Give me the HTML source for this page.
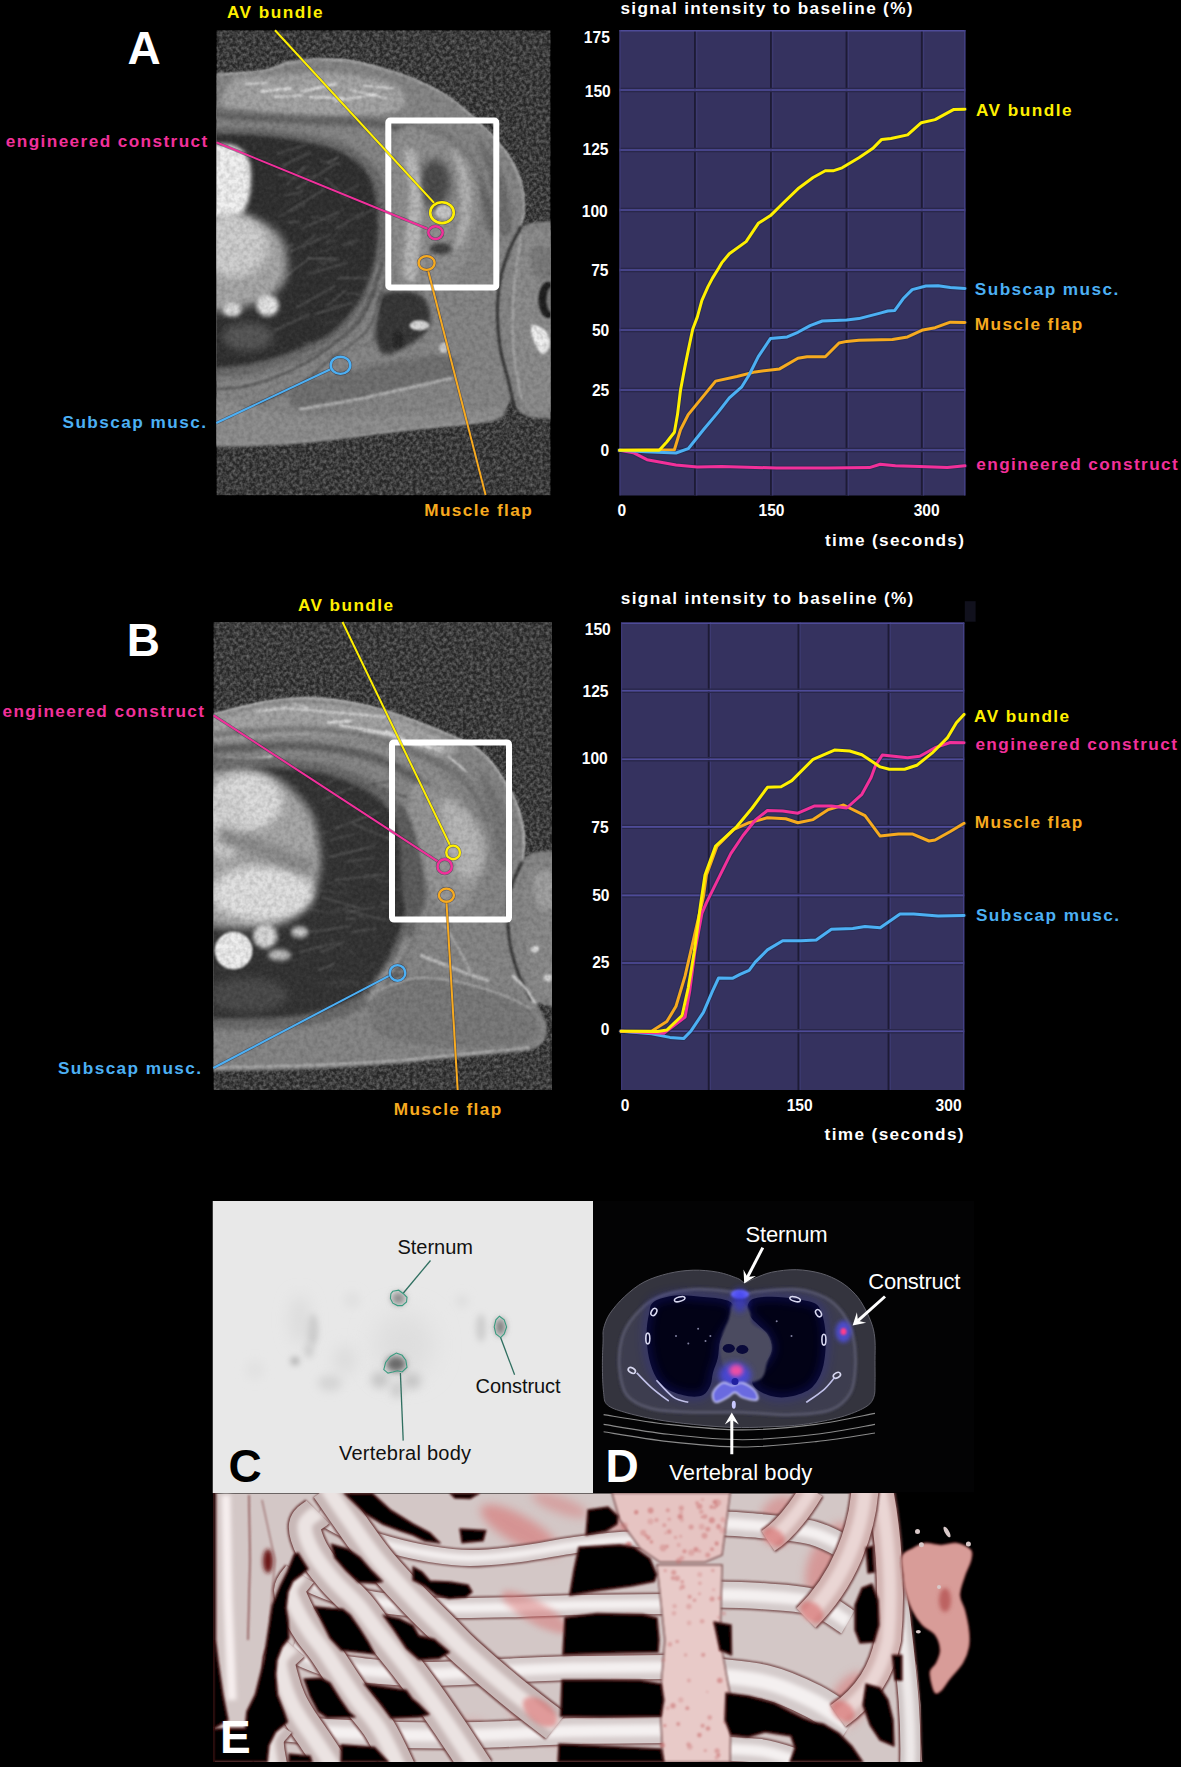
<!DOCTYPE html>
<html><head><meta charset="utf-8"><title>Figure</title>
<style>
html,body{margin:0;padding:0;background:#000;}
body{width:1181px;height:1767px;overflow:hidden;position:relative;font-family:"Liberation Sans",sans-serif;}
svg{position:absolute;left:0;top:0;display:block;}
</style></head>
<body>
<svg width="1181" height="1767" viewBox="0 0 1181 1767">
<defs>

<filter id="noise" filterUnits="userSpaceOnUse" x="-400" y="-400" width="2000" height="2600">
  <feTurbulence type="fractalNoise" baseFrequency="0.3" numOctaves="2" seed="5" result="t"/>
  <feGaussianBlur stdDeviation="0.7"/>
  <feColorMatrix type="matrix" values="0 0 0 0 0.42  0 0 0 0 0.42  0 0 0 0 0.42  0 0 0 1.6 -0.5"/>
</filter>
<filter id="noise2" filterUnits="userSpaceOnUse" x="-400" y="-400" width="2000" height="2600">
  <feTurbulence type="fractalNoise" baseFrequency="0.22" numOctaves="2" seed="11" result="t"/>
  <feColorMatrix type="matrix" values="0 0 0 0 0  0 0 0 0 0  0 0 0 0 0  0 0 0 1.6 -0.55"/>
</filter>
<filter id="b1" filterUnits="userSpaceOnUse" x="-400" y="-400" width="2000" height="2600"><feGaussianBlur stdDeviation="1"/></filter>
<filter id="b2" filterUnits="userSpaceOnUse" x="-400" y="-400" width="2000" height="2600"><feGaussianBlur stdDeviation="2"/></filter>
<filter id="b4" filterUnits="userSpaceOnUse" x="-400" y="-400" width="2000" height="2600"><feGaussianBlur stdDeviation="4"/></filter>
<filter id="b7" filterUnits="userSpaceOnUse" x="-400" y="-400" width="2000" height="2600"><feGaussianBlur stdDeviation="7"/></filter>
<clipPath id="clipA"><rect x="0" y="0" width="334" height="465"/></clipPath>
<clipPath id="clipB"><rect x="0" y="0" width="338.5" height="468"/></clipPath>


<filter id="cb3" filterUnits="userSpaceOnUse" x="-400" y="-400" width="2000" height="2600"><feGaussianBlur stdDeviation="3"/></filter>
<filter id="cb5" filterUnits="userSpaceOnUse" x="-400" y="-400" width="2000" height="2600"><feGaussianBlur stdDeviation="5"/></filter>
<filter id="cb8" filterUnits="userSpaceOnUse" x="-400" y="-400" width="2000" height="2600"><feGaussianBlur stdDeviation="8"/></filter>
<filter id="cb12" filterUnits="userSpaceOnUse" x="-400" y="-400" width="2000" height="2600"><feGaussianBlur stdDeviation="12"/></filter>
<filter id="eb" filterUnits="userSpaceOnUse" x="-400" y="-400" width="2000" height="2600"><feGaussianBlur stdDeviation="0.9"/></filter>
<filter id="eb2" filterUnits="userSpaceOnUse" x="-400" y="-400" width="2000" height="2600"><feGaussianBlur stdDeviation="2"/></filter>
<clipPath id="clipC"><rect x="212.5" y="1201" width="380.5" height="292.2"/></clipPath>
<clipPath id="clipD"><rect x="593" y="1201" width="381" height="291.5"/></clipPath>
<clipPath id="clipE"><rect x="213" y="1493" width="762" height="269"/></clipPath>

</defs>
<rect x="0" y="0" width="1181" height="1767" fill="#000"/>
<g transform="translate(216.5,30.3)" clip-path="url(#clipA)">
<rect x="0" y="0" width="334" height="465" fill="#272727"/>
<rect x="0" y="0" width="334" height="465" filter="url(#noise)" opacity="0.55"/>
<path d="M-25.5,44.8 C-21.3,-17.2 -9.0,44.3 0.0,44.0 C9.0,43.6 19.9,43.3 28.4,42.6 C36.9,41.8 44.0,41.4 51.1,39.7 C58.2,38.1 62.9,34.4 70.9,32.6 C79.0,30.9 88.9,29.6 99.3,29.2 C109.7,28.9 121.5,28.9 133.3,30.6 C145.2,32.4 159.3,36.5 170.2,39.7 C181.1,42.9 189.1,45.6 198.6,49.6 C208.0,53.7 218.4,58.6 227.0,63.8 C235.5,69.0 242.1,74.5 249.6,80.9 C257.2,87.2 265.7,95.3 272.3,102.1 C279.0,109.0 284.6,115.4 289.4,122.0 C294.1,128.6 297.9,135.2 300.7,141.8 C303.5,148.5 305.3,154.6 306.4,161.7 C307.4,168.8 307.4,178.7 307.0,184.4 C306.5,190.1 301.7,194.4 303.5,195.7 C305.3,197.1 312.5,193.0 317.7,192.3 C323.0,191.6 327.5,191.6 335.0,191.5 C342.6,191.3 358.4,158.5 363.1,191.5 C367.8,224.4 367.8,356.4 363.1,389.2 C358.4,422.1 343.5,389.1 335.0,388.7 C326.5,388.2 317.8,388.0 312.1,386.4 C306.3,384.7 303.5,381.7 300.7,378.7 C297.9,375.8 297.9,367.4 295.0,368.8 C292.2,370.2 290.3,383.1 283.7,387.2 C277.1,391.4 269.5,391.7 255.3,393.8 C241.1,395.8 217.5,397.4 198.6,399.4 C179.7,401.5 160.8,404.0 141.8,406.2 C122.9,408.5 104.0,411.2 85.1,412.8 C66.2,414.4 42.6,415.4 28.4,415.9 C14.2,416.4 9.0,415.9 0.0,415.9 C-9.0,415.9 -21.3,477.7 -25.5,415.9 C-29.8,354.0 -29.8,106.8 -25.5,44.8 Z" fill="#868686" filter="url(#b1)"/>
<path d="M0.0,44.0 C4.7,43.7 19.9,43.3 28.4,42.6 C36.9,41.8 44.0,41.4 51.1,39.7 C58.2,38.1 62.9,34.4 70.9,32.6 C79.0,30.9 88.9,29.6 99.3,29.2 C109.7,28.9 121.5,28.9 133.3,30.6 C145.2,32.4 159.3,36.5 170.2,39.7 C181.1,42.9 189.1,45.6 198.6,49.6 C208.0,53.7 218.4,58.6 227.0,63.8 C235.5,69.0 242.1,74.5 249.6,80.9 C257.2,87.2 265.7,95.3 272.3,102.1 C279.0,109.0 284.6,115.4 289.4,122.0 C294.1,128.6 297.9,135.2 300.7,141.8 C303.5,148.5 305.3,154.6 306.4,161.7 C307.4,168.8 307.4,178.7 307.0,184.4 C306.5,190.1 304.1,193.9 303.5,195.7" fill="none" stroke="#c8c8c8" stroke-width="1.6" filter="url(#b1)"/>
<path d="M0.0,412.8 C14.2,412.4 61.5,412.0 85.1,410.5 C108.7,409.0 122.9,406.2 141.8,404.0 C160.8,401.7 179.7,399.2 198.6,397.2 C217.5,395.1 241.6,393.6 255.3,391.5 C269.0,389.4 276.6,385.6 280.9,384.4" fill="none" stroke="#b5b5b5" stroke-width="1.5" filter="url(#b1)"/>
<path d="M17.0,49.6 C25.5,44.4 40.7,46.6 56.7,45.4 C72.8,44.2 96.5,42.1 113.5,42.6 C130.5,43.0 147.0,45.4 158.9,48.2 C170.7,51.1 179.7,54.8 184.4,59.6 C189.1,64.3 191.5,72.3 187.2,76.6 C183.0,80.9 175.9,83.7 158.9,85.1 C141.8,86.5 106.9,85.6 85.1,85.1 C63.4,84.6 41.6,83.7 28.4,82.3 C15.1,80.9 7.6,82.0 5.7,76.6 C3.8,71.2 8.5,54.8 17.0,49.6 Z" fill="#a4a4a4" filter="url(#b2)"/>
<line x1="45.4" y1="61.0" x2="73.8" y2="58.2" stroke="#ececec" stroke-width="2.3" stroke-linecap="round" filter="url(#b1)"/>
<line x1="85.1" y1="61.0" x2="119.1" y2="53.9" stroke="#ececec" stroke-width="2.3" stroke-linecap="round" filter="url(#b1)"/>
<line x1="93.6" y1="66.7" x2="127.7" y2="68.1" stroke="#ececec" stroke-width="1.8" stroke-linecap="round" filter="url(#b1)"/>
<line x1="119.1" y1="70.9" x2="158.9" y2="63.8" stroke="#ececec" stroke-width="1.8" stroke-linecap="round" filter="url(#b1)"/>
<line x1="133.3" y1="59.6" x2="170.2" y2="68.1" stroke="#ececec" stroke-width="1.4" stroke-linecap="round" filter="url(#b1)"/>
<line x1="56.7" y1="66.7" x2="85.1" y2="65.2" stroke="#ececec" stroke-width="1.4" stroke-linecap="round" filter="url(#b1)"/>
<line x1="147.5" y1="55.3" x2="175.9" y2="58.2" stroke="#ececec" stroke-width="1.4" stroke-linecap="round" filter="url(#b1)"/>
<line x1="28.4" y1="53.9" x2="51.1" y2="52.5" stroke="#ececec" stroke-width="1.4" stroke-linecap="round" filter="url(#b1)"/>
<path d="M-25.5,76.0 C-21.3,74.1 -18.4,75.1 0.0,76.6 C18.4,78.1 56.7,83.2 85.1,85.1 C113.5,87.0 146.6,85.1 170.2,87.9 C193.9,90.8 212.8,96.0 227.0,102.1 C241.1,108.3 247.8,115.4 255.3,124.8 C262.9,134.3 268.1,146.6 272.3,158.9 C276.6,171.2 281.3,192.0 280.9,198.6 C280.4,205.2 273.8,205.2 269.5,198.6 C265.2,192.0 261.0,171.2 255.3,158.9 C249.6,146.6 244.9,133.8 235.5,124.8 C226.0,115.8 214.2,109.7 198.6,105.0 C183.0,100.2 160.8,98.3 141.8,96.5 C122.9,94.6 108.7,95.0 85.1,93.6 C61.5,92.2 18.4,88.9 0.0,87.9 C-18.4,87.0 -21.3,89.9 -25.5,87.9 C-29.8,86.0 -29.8,77.9 -25.5,76.0 Z" fill="#787878" filter="url(#b2)"/>
<path d="M-25.5,85.1 C-21.3,85.1 -18.4,84.3 0.0,85.1 C18.4,86.0 58.6,88.8 85.1,90.2 C111.6,91.6 137.1,90.7 158.9,93.6 C180.6,96.5 200.5,101.2 215.6,107.8 C230.7,114.4 240.7,122.9 249.6,133.3 C258.6,143.7 264.8,158.4 269.5,170.2 C274.2,182.0 276.6,198.6 278.0,204.3" fill="none" stroke="#626262" stroke-width="6.2" filter="url(#b2)"/>
<path d="M-25.5,95.9 C-21.3,53.7 -11.3,96.1 0.0,96.5 C11.3,96.8 27.9,96.7 42.6,97.9 C57.2,99.1 74.2,101.2 87.9,103.5 C101.7,105.9 114.4,108.0 124.8,112.1 C135.2,116.1 143.5,121.7 150.4,127.7 C157.2,133.6 162.4,139.5 166.0,147.5 C169.5,155.6 170.5,166.4 171.6,175.9 C172.7,185.3 173.0,194.3 172.5,204.3 C172.0,214.2 171.1,225.1 168.8,235.5 C166.5,245.9 163.1,257.2 158.9,266.7 C154.6,276.1 149.4,284.6 143.3,292.2 C137.1,299.8 129.8,306.4 122.0,312.1 C114.2,317.7 105.9,322.0 96.5,326.2 C87.0,330.5 76.6,334.3 65.2,337.6 C53.9,340.9 39.2,344.2 28.4,346.1 C17.5,348.0 9.0,348.4 0.0,348.9 C-9.0,349.5 -21.3,391.7 -25.5,349.5 C-29.8,307.3 -29.8,138.1 -25.5,95.9 Z" fill="#6c6c6c" filter="url(#b2)"/>
<path d="M-25.5,102.7 C-21.3,63.6 -11.3,103.2 0.0,103.5 C11.3,103.9 28.4,103.8 42.6,105.0 C56.7,106.1 72.3,108.3 85.1,110.6 C97.9,113.0 109.7,115.4 119.1,119.1 C128.6,122.9 135.9,128.1 141.8,133.3 C147.8,138.5 151.5,143.3 154.6,150.4 C157.7,157.4 159.2,166.9 160.3,175.9 C161.4,184.9 161.6,194.8 161.1,204.3 C160.7,213.7 159.7,223.2 157.4,232.6 C155.2,242.1 151.5,252.5 147.5,261.0 C143.5,269.5 139.0,276.6 133.3,283.7 C127.7,290.8 120.6,298.3 113.5,303.5 C106.4,308.7 99.3,311.1 90.8,314.9 C82.3,318.7 72.8,322.9 62.4,326.2 C52.0,329.6 38.8,332.9 28.4,334.8 C18.0,336.6 9.0,337.0 0.0,337.6 C-9.0,338.2 -21.3,377.3 -25.5,338.2 C-29.8,299.0 -29.8,141.8 -25.5,102.7 Z" fill="#2f2f2f" filter="url(#b2)"/>
<line x1="65.2" y1="136.2" x2="93.6" y2="122.0" stroke="#555" stroke-width="1.6" filter="url(#b1)"/>
<line x1="79.4" y1="158.9" x2="119.1" y2="133.3" stroke="#555" stroke-width="1.6" filter="url(#b1)"/>
<line x1="70.9" y1="181.6" x2="107.8" y2="158.9" stroke="#555" stroke-width="1.6" filter="url(#b1)"/>
<line x1="85.1" y1="198.6" x2="122.0" y2="181.6" stroke="#555" stroke-width="1.6" filter="url(#b1)"/>
<line x1="73.8" y1="221.3" x2="113.5" y2="204.3" stroke="#555" stroke-width="1.6" filter="url(#b1)"/>
<line x1="90.8" y1="244.0" x2="130.5" y2="232.6" stroke="#555" stroke-width="1.6" filter="url(#b1)"/>
<line x1="65.2" y1="249.6" x2="93.6" y2="227.0" stroke="#555" stroke-width="1.6" filter="url(#b1)"/>
<line x1="107.8" y1="147.5" x2="133.3" y2="170.2" stroke="#555" stroke-width="1.6" filter="url(#b1)"/>
<line x1="119.1" y1="198.6" x2="147.5" y2="181.6" stroke="#555" stroke-width="1.6" filter="url(#b1)"/>
<line x1="79.4" y1="278.0" x2="119.1" y2="255.3" stroke="#555" stroke-width="1.6" filter="url(#b1)"/>
<line x1="56.7" y1="300.7" x2="93.6" y2="283.7" stroke="#555" stroke-width="1.6" filter="url(#b1)"/>
<line x1="99.3" y1="283.7" x2="136.2" y2="272.3" stroke="#555" stroke-width="1.6" filter="url(#b1)"/>
<line x1="78.4" y1="149.1" x2="94.3" y2="132.1" stroke="#4a4a4a" stroke-width="1.2" filter="url(#b1)"/>
<line x1="49.0" y1="219.9" x2="57.5" y2="216.1" stroke="#4a4a4a" stroke-width="1.0" filter="url(#b1)"/>
<line x1="103.5" y1="130.9" x2="124.6" y2="133.9" stroke="#4a4a4a" stroke-width="1.4" filter="url(#b1)"/>
<line x1="86.4" y1="313.0" x2="96.0" y2="313.4" stroke="#5e5e5e" stroke-width="1.2" filter="url(#b1)"/>
<line x1="102.4" y1="232.5" x2="123.4" y2="229.4" stroke="#4a4a4a" stroke-width="1.4" filter="url(#b1)"/>
<line x1="113.2" y1="193.1" x2="127.4" y2="177.6" stroke="#4a4a4a" stroke-width="1.4" filter="url(#b1)"/>
<line x1="97.5" y1="224.7" x2="121.7" y2="214.8" stroke="#444" stroke-width="1.2" filter="url(#b1)"/>
<line x1="70.0" y1="154.8" x2="88.1" y2="135.9" stroke="#5e5e5e" stroke-width="1.3" filter="url(#b1)"/>
<line x1="139.4" y1="264.0" x2="154.2" y2="266.7" stroke="#4a4a4a" stroke-width="1.3" filter="url(#b1)"/>
<line x1="60.8" y1="187.1" x2="87.7" y2="174.5" stroke="#4a4a4a" stroke-width="1.6" filter="url(#b1)"/>
<line x1="106.0" y1="293.0" x2="121.4" y2="290.9" stroke="#444" stroke-width="1.4" filter="url(#b1)"/>
<line x1="93.0" y1="286.0" x2="120.9" y2="274.9" stroke="#4a4a4a" stroke-width="0.9" filter="url(#b1)"/>
<line x1="120.2" y1="247.7" x2="151.2" y2="247.8" stroke="#5e5e5e" stroke-width="1.5" filter="url(#b1)"/>
<line x1="140.7" y1="188.1" x2="166.8" y2="173.5" stroke="#4a4a4a" stroke-width="1.3" filter="url(#b1)"/>
<line x1="66.7" y1="176.2" x2="89.3" y2="165.0" stroke="#444" stroke-width="0.9" filter="url(#b1)"/>
<line x1="92.3" y1="228.3" x2="120.8" y2="228.3" stroke="#5e5e5e" stroke-width="1.5" filter="url(#b1)"/>
<line x1="151.7" y1="254.7" x2="165.4" y2="244.4" stroke="#4a4a4a" stroke-width="1.0" filter="url(#b1)"/>
<line x1="68.2" y1="165.5" x2="87.1" y2="160.6" stroke="#5e5e5e" stroke-width="1.1" filter="url(#b1)"/>
<line x1="58.7" y1="225.3" x2="77.7" y2="213.6" stroke="#555" stroke-width="1.5" filter="url(#b1)"/>
<line x1="99.6" y1="241.8" x2="115.5" y2="224.0" stroke="#444" stroke-width="1.2" filter="url(#b1)"/>
<line x1="86.2" y1="214.8" x2="99.7" y2="203.6" stroke="#555" stroke-width="1.2" filter="url(#b1)"/>
<line x1="54.7" y1="238.4" x2="65.1" y2="235.5" stroke="#4a4a4a" stroke-width="1.7" filter="url(#b1)"/>
<line x1="110.5" y1="133.1" x2="122.2" y2="126.9" stroke="#5e5e5e" stroke-width="1.8" filter="url(#b1)"/>
<line x1="109.2" y1="213.3" x2="119.6" y2="209.4" stroke="#444" stroke-width="1.3" filter="url(#b1)"/>
<line x1="77.1" y1="147.8" x2="102.5" y2="145.6" stroke="#444" stroke-width="1.6" filter="url(#b1)"/>
<line x1="60.4" y1="123.7" x2="89.0" y2="114.3" stroke="#555" stroke-width="1.5" filter="url(#b1)"/>
<line x1="143.7" y1="269.7" x2="158.7" y2="266.8" stroke="#4a4a4a" stroke-width="1.5" filter="url(#b1)"/>
<line x1="71.4" y1="192.0" x2="83.7" y2="191.3" stroke="#5e5e5e" stroke-width="1.4" filter="url(#b1)"/>
<line x1="110.4" y1="275.7" x2="130.3" y2="259.4" stroke="#555" stroke-width="1.6" filter="url(#b1)"/>
<line x1="124.4" y1="164.2" x2="142.1" y2="154.3" stroke="#4a4a4a" stroke-width="1.8" filter="url(#b1)"/>
<line x1="130.0" y1="212.9" x2="142.5" y2="209.9" stroke="#5e5e5e" stroke-width="1.2" filter="url(#b1)"/>
<line x1="146.2" y1="315.4" x2="172.7" y2="300.9" stroke="#555" stroke-width="0.9" filter="url(#b1)"/>
<line x1="94.6" y1="186.2" x2="113.7" y2="189.8" stroke="#4a4a4a" stroke-width="1.3" filter="url(#b1)"/>
<line x1="114.8" y1="277.9" x2="125.1" y2="276.1" stroke="#444" stroke-width="1.6" filter="url(#b1)"/>
<line x1="125.5" y1="214.1" x2="138.1" y2="213.7" stroke="#5e5e5e" stroke-width="0.9" filter="url(#b1)"/>
<line x1="147.2" y1="262.5" x2="166.2" y2="260.9" stroke="#4a4a4a" stroke-width="1.5" filter="url(#b1)"/>
<line x1="61.4" y1="144.4" x2="73.2" y2="145.5" stroke="#555" stroke-width="1.4" filter="url(#b1)"/>
<line x1="108.5" y1="213.3" x2="130.7" y2="193.5" stroke="#555" stroke-width="0.8" filter="url(#b1)"/>
<line x1="131.0" y1="263.4" x2="141.8" y2="262.6" stroke="#555" stroke-width="1.2" filter="url(#b1)"/>
<line x1="139.0" y1="283.2" x2="149.8" y2="275.4" stroke="#5e5e5e" stroke-width="1.3" filter="url(#b1)"/>
<path d="M-25.5,181.6 C-21.3,165.0 -9.9,180.6 0.0,181.6 C9.9,182.5 23.6,183.5 34.0,187.2 C44.4,191.0 56.3,196.7 62.4,204.3 C68.6,211.8 70.4,224.1 70.9,232.6 C71.4,241.1 70.0,248.7 65.2,255.3 C60.5,261.9 53.4,268.1 42.6,272.3 C31.7,276.6 11.3,279.4 0.0,280.9 C-11.3,282.3 -21.3,297.4 -25.5,280.9 C-29.8,264.3 -29.8,198.1 -25.5,181.6 Z" fill="#a8a8a8" filter="url(#b4)"/>
<path d="M-25.5,113.5 C-21.3,101.2 -7.6,113.0 0.0,113.5 C7.6,113.9 14.4,113.5 19.9,116.3 C25.3,119.1 30.3,123.4 32.6,130.5 C35.0,137.6 35.0,150.4 34.0,158.9 C33.1,167.4 30.7,176.8 27.0,181.6 C23.2,186.3 15.8,186.3 11.3,187.2 C6.9,188.2 6.1,187.2 0.0,187.2 C-6.1,187.2 -21.3,199.5 -25.5,187.2 C-29.8,174.9 -29.8,125.8 -25.5,113.5 Z" fill="#f2f2f2" filter="url(#b2)"/>
<ellipse cx="17.0" cy="215.6" rx="34.0" ry="31.2" fill="#d0d0d0" filter="url(#b4)"/>
<ellipse cx="51.1" cy="275.2" rx="11.3" ry="10.8" fill="#e6e6e6" filter="url(#b2)"/>
<ellipse cx="15.6" cy="279.4" rx="9.9" ry="7.1" fill="#dcdcdc" filter="url(#b2)"/>
<ellipse cx="31.2" cy="306.4" rx="25.5" ry="14.2" fill="#555" filter="url(#b4)"/>
<path d="M181.6,102.1 C189.6,87.0 214.7,102.6 227.0,107.8 C239.2,113.0 249.2,122.9 255.3,133.3 C261.5,143.7 263.8,156.5 263.8,170.2 C263.8,183.9 259.1,203.3 255.3,215.6 C251.5,227.9 247.8,237.4 241.1,244.0 C234.5,250.6 225.1,253.4 215.6,255.3 C206.1,257.2 190.5,264.8 184.4,255.3 C178.3,245.9 179.2,224.1 178.7,198.6 C178.3,173.0 173.5,117.3 181.6,102.1 Z" fill="#8f8f8f" filter="url(#b2)"/>
<ellipse cx="218.4" cy="153.2" rx="15.6" ry="24.1" fill="#4a4a4a" filter="url(#b4)"/>
<ellipse cx="227.0" cy="181.6" rx="7.9" ry="7.1" fill="#c8c8c8" filter="url(#b1)"/>
<path d="M187.2,122.0 C186.3,128.1 192.4,146.1 192.9,158.9 C193.4,171.6 191.0,184.9 190.1,198.6 C189.1,212.3 185.8,232.6 187.2,241.1 C188.7,249.6 195.7,256.7 198.6,249.6 C201.4,242.6 203.3,214.2 204.3,198.6 C205.2,183.0 205.2,168.8 204.3,156.0 C203.3,143.3 201.4,127.7 198.6,122.0 C195.7,116.3 188.2,115.8 187.2,122.0 Z" fill="#b8b8b8" filter="url(#b2)"/>
<path d="M235.5,119.1 C236.9,118.2 246.3,127.7 249.6,136.2 C253.0,144.7 255.3,158.9 255.3,170.2 C255.3,181.6 252.5,195.7 249.6,204.3 C246.8,212.8 239.2,225.1 238.3,221.3 C237.4,217.5 243.5,194.8 244.0,181.6 C244.4,168.3 242.6,152.2 241.1,141.8 C239.7,131.4 234.0,120.1 235.5,119.1 Z" fill="#b0b0b0" filter="url(#b2)"/>
<ellipse cx="224.1" cy="218.4" rx="11.3" ry="5.7" fill="#3e3e3e" filter="url(#b2)"/>
<path d="M261.0,107.8 C262.9,107.3 275.7,123.9 280.9,133.3 C286.1,142.8 289.8,153.7 292.2,164.5 C294.6,175.4 296.5,192.0 295.0,198.6 C293.6,205.2 286.5,209.0 283.7,204.3 C280.9,199.5 280.4,181.6 278.0,170.2 C275.7,158.9 272.3,146.6 269.5,136.2 C266.7,125.8 259.1,108.3 261.0,107.8 Z" fill="#6e6e6e" filter="url(#b2)"/>
<path d="M164.5,263.8 C170.7,260.8 190.5,260.0 198.6,262.4 C206.6,264.8 210.9,271.6 212.8,278.0 C214.7,284.4 214.2,294.1 209.9,300.7 C205.7,307.3 194.3,313.9 187.2,317.7 C180.1,321.5 172.1,325.3 167.4,323.4 C162.6,321.5 159.8,313.5 158.9,306.4 C157.9,299.3 160.8,287.9 161.7,280.9 C162.6,273.8 158.4,266.9 164.5,263.8 Z" fill="#353535" filter="url(#b2)"/>
<ellipse cx="202.8" cy="295.0" rx="9.9" ry="5.1" fill="#d8d8d8" filter="url(#b1)"/>
<ellipse cx="227.0" cy="317.7" rx="4.5" ry="5.7" fill="#c8c8c8" filter="url(#b1)"/>
<ellipse cx="181.6" cy="309.2" rx="5.7" ry="8.5" fill="#262626" filter="url(#b1)"/>
<path d="M85.1,354.6 C94.6,348.0 122.9,342.3 141.8,337.6 C160.8,332.9 183.5,327.7 198.6,326.2 C213.7,324.8 227.9,325.3 232.6,329.1 C237.4,332.9 237.4,342.8 227.0,348.9 C216.5,355.1 189.1,360.8 170.2,366.0 C151.3,371.2 127.7,378.3 113.5,380.1 C99.3,382.0 89.8,381.6 85.1,377.3 C80.4,373.0 75.7,361.2 85.1,354.6 Z" fill="#7a7a7a" filter="url(#b2)"/>
<path d="M82.3,368.8 C89.8,366.9 110.6,361.2 127.7,357.4 C144.7,353.7 167.8,349.4 184.4,346.1 C200.9,342.8 219.9,339.0 227.0,337.6" fill="none" stroke="#a6a6a6" stroke-width="3" filter="url(#b1)"/>
<path d="M93.6,377.3 C101.7,375.9 126.7,371.6 141.8,368.8 C157.0,366.0 171.2,363.4 184.4,360.3 C197.6,357.2 215.1,352.0 221.3,350.4" fill="none" stroke="#9a9a9a" stroke-width="4" filter="url(#b2)"/>
<path d="M-25.5,348.9 C-21.3,348.9 -9.0,349.4 0.0,348.9 C9.0,348.5 18.0,348.2 28.4,346.1 C38.8,344.0 52.0,340.1 62.4,336.5 C72.8,332.8 81.6,328.3 90.8,324.0 C100.0,319.6 109.7,316.2 117.4,310.4 C125.2,304.5 131.6,296.5 137.3,288.8 C143.0,281.1 147.2,273.8 151.5,264.4 C155.7,255.0 160.9,237.9 162.8,232.6" fill="none" stroke="#7c7c7c" stroke-width="2.6" filter="url(#b1)"/>
<path d="M-25.5,358.9 C-21.3,358.9 -9.0,359.3 0.0,358.9 C9.0,358.4 18.0,358.3 28.4,356.0 C38.8,353.8 52.0,349.4 62.4,345.4 C72.8,341.4 82.3,336.8 90.8,331.9 C99.3,327.1 105.1,322.8 113.5,316.3 C121.8,309.9 133.9,301.4 140.8,293.3 C147.7,285.1 150.7,277.5 155.0,267.4 C159.2,257.3 164.4,238.4 166.3,232.6" fill="none" stroke="#5c5c5c" stroke-width="2.6" filter="url(#b1)"/>
<path d="M-25.5,368.8 C-21.3,368.8 -9.0,369.3 0.0,368.8 C9.0,368.3 18.0,368.4 28.4,366.0 C38.8,363.5 52.0,358.7 62.4,354.3 C72.8,350.0 82.3,345.2 90.8,339.9 C99.3,334.5 104.6,329.3 113.5,322.3 C122.4,315.2 136.8,306.4 144.3,297.7 C151.7,289.1 154.2,281.2 158.4,270.4 C162.7,259.5 167.9,238.9 169.8,232.6" fill="none" stroke="#808080" stroke-width="2.6" filter="url(#b1)"/>
<path d="M-25.5,380.1 C-21.3,380.1 -9.0,380.6 0.0,380.1 C9.0,379.7 18.0,379.9 28.4,377.3 C38.8,374.7 52.0,369.3 62.4,364.5 C72.8,359.8 82.3,354.8 90.8,348.9 C99.3,343.0 103.9,336.8 113.5,329.1 C123.0,321.4 140.1,312.1 148.2,302.8 C156.4,293.6 158.2,285.5 162.4,273.8 C166.7,262.1 171.9,239.5 173.8,232.6" fill="none" stroke="#646464" stroke-width="2.6" filter="url(#b1)"/>
<path d="M79.4,354.6 C88.9,348.2 122.0,344.7 141.8,340.4 C161.7,336.2 183.0,331.4 198.6,329.1 C214.2,326.7 229.3,323.4 235.5,326.2 C241.6,329.1 246.3,340.0 235.5,346.1 C224.6,352.2 195.3,357.6 170.2,363.1 C145.2,368.6 100.2,380.4 85.1,379.0 C70.0,377.6 70.0,361.0 79.4,354.6 Z" fill="#707070" filter="url(#b2)"/>
<path d="M82.3,379.0 C92.2,377.3 122.5,372.6 141.8,368.8 C161.2,365.0 183.0,359.5 198.6,356.0 C214.2,352.5 229.3,349.2 235.5,347.8" fill="none" stroke="#b8b8b8" stroke-width="2.8" filter="url(#b1)"/>
<path d="M-25.5,368.2 C-21.3,360.7 -18.4,365.9 0.0,368.8 C18.4,371.7 56.7,383.0 85.1,385.8 C113.5,388.7 141.8,386.8 170.2,385.8 C198.6,384.9 236.4,381.6 255.3,380.1 C274.2,378.7 279.9,375.9 283.7,377.3 C287.5,378.7 292.2,385.3 278.0,388.7 C263.8,392.0 230.7,393.4 198.6,397.2 C166.4,400.9 118.2,408.5 85.1,411.3 C52.0,414.2 18.4,413.7 0.0,414.2 C-18.4,414.7 -21.3,421.8 -25.5,414.2 C-29.8,406.5 -29.8,375.8 -25.5,368.2 Z" fill="#8e8e8e" filter="url(#b2)"/>
<path d="M305.0,195.7 C302.8,200.0 295.7,212.3 292.2,221.3 C288.7,230.3 285.6,239.2 283.7,249.6 C281.8,260.0 280.9,272.3 280.9,283.7 C280.9,295.0 281.8,306.4 283.7,317.7 C285.6,329.1 289.8,341.8 292.2,351.8 C294.6,361.7 296.9,373.0 297.9,377.3" fill="none" stroke="#333" stroke-width="3" filter="url(#b1)"/>
<path d="M303.5,204.3 C310.0,197.4 325.1,200.7 335.0,200.0 C345.0,199.3 358.4,170.0 363.1,200.0 C367.8,230.0 367.8,350.1 363.1,380.1 C358.4,410.2 343.5,380.1 335.0,380.1 C326.5,380.1 317.8,384.4 312.1,380.1 C306.3,375.9 303.5,368.3 300.7,354.6 C297.9,340.9 295.7,316.8 295.0,297.9 C294.3,279.0 295.0,256.7 296.5,241.1 C297.9,225.5 297.1,211.1 303.5,204.3 Z" fill="#8c8c8c" filter="url(#b1)"/>
<path d="M305.0,204.3 C303.8,212.8 299.3,237.4 297.9,255.3 C296.5,273.3 295.3,293.1 296.5,312.1 C297.6,331.0 303.5,359.3 305.0,368.8" fill="none" stroke="#b0b0b0" stroke-width="1.5" filter="url(#b1)"/>
<ellipse cx="331.9" cy="269.5" rx="9.9" ry="18.4" fill="#1a1a1a" filter="url(#b1)"/>
<ellipse cx="334.8" cy="269.5" rx="5.1" ry="12.8" fill="#777" filter="url(#b1)"/>
<path d="M314.9,295.0 C316.8,293.1 326.0,297.4 329.1,300.7 C332.2,304.0 333.8,311.1 333.3,314.9 C332.9,318.7 328.8,323.9 326.2,323.4 C323.6,322.9 319.6,316.8 317.7,312.1 C315.8,307.3 313.0,296.9 314.9,295.0 Z" fill="#f0f0f0" filter="url(#b1)"/>
<path d="M314.9,218.4 C317.8,213.7 327.9,216.1 335.0,215.6 C342.1,215.1 353.7,209.9 357.4,215.6 C361.2,221.3 361.2,244.0 357.4,249.6 C353.7,255.3 341.7,250.6 335.0,249.6 C328.4,248.7 321.1,249.2 317.7,244.0 C314.4,238.8 312.0,223.2 314.9,218.4 Z" fill="#7a7a7a" filter="url(#b2)"/>
<clipPath id="cbodyA"><path d="M-25.5,44.8 C-21.3,-17.2 -9.0,44.3 0.0,44.0 C9.0,43.6 19.9,43.3 28.4,42.6 C36.9,41.8 44.0,41.4 51.1,39.7 C58.2,38.1 62.9,34.4 70.9,32.6 C79.0,30.9 88.9,29.6 99.3,29.2 C109.7,28.9 121.5,28.9 133.3,30.6 C145.2,32.4 159.3,36.5 170.2,39.7 C181.1,42.9 189.1,45.6 198.6,49.6 C208.0,53.7 218.4,58.6 227.0,63.8 C235.5,69.0 242.1,74.5 249.6,80.9 C257.2,87.2 265.7,95.3 272.3,102.1 C279.0,109.0 284.6,115.4 289.4,122.0 C294.1,128.6 297.9,135.2 300.7,141.8 C303.5,148.5 305.3,154.6 306.4,161.7 C307.4,168.8 307.4,178.7 307.0,184.4 C306.5,190.1 301.7,194.4 303.5,195.7 C305.3,197.1 312.5,193.0 317.7,192.3 C323.0,191.6 327.5,191.6 335.0,191.5 C342.6,191.3 358.4,158.5 363.1,191.5 C367.8,224.4 367.8,356.4 363.1,389.2 C358.4,422.1 343.5,389.1 335.0,388.7 C326.5,388.2 317.8,388.0 312.1,386.4 C306.3,384.7 303.5,381.7 300.7,378.7 C297.9,375.8 297.9,367.4 295.0,368.8 C292.2,370.2 290.3,383.1 283.7,387.2 C277.1,391.4 269.5,391.7 255.3,393.8 C241.1,395.8 217.5,397.4 198.6,399.4 C179.7,401.5 160.8,404.0 141.8,406.2 C122.9,408.5 104.0,411.2 85.1,412.8 C66.2,414.4 42.6,415.4 28.4,415.9 C14.2,416.4 9.0,415.9 0.0,415.9 C-9.0,415.9 -21.3,477.7 -25.5,415.9 C-29.8,354.0 -29.8,106.8 -25.5,44.8 Z"/></clipPath>
<g clip-path="url(#cbodyA)"><rect x="0" y="0" width="334" height="465" filter="url(#noise2)" opacity="0.18"/><rect x="0" y="0" width="334" height="465" filter="url(#noise)" opacity="0.1"/></g>
</g>
<g transform="translate(213.5,622)" clip-path="url(#clipB)">
<rect x="0" y="0" width="338.5" height="468" fill="#272727"/>
<rect x="0" y="0" width="338.5" height="468" filter="url(#noise)" opacity="0.55"/>
<path d="M-25.8,94.7 C-21.5,35.2 -9.1,94.0 0.0,92.4 C9.1,90.8 19.1,87.2 28.7,85.0 C38.3,82.8 47.8,80.7 57.4,79.2 C67.0,77.8 76.5,76.6 86.1,76.3 C95.7,76.1 105.2,76.6 114.8,77.5 C124.4,78.4 133.9,79.9 143.5,81.8 C153.1,83.7 162.6,86.1 172.2,89.0 C181.8,91.8 191.4,95.4 200.9,99.0 C210.5,102.6 220.1,106.4 229.6,110.5 C239.2,114.6 250.7,118.9 258.3,123.4 C266.0,128.0 270.3,132.0 275.5,137.8 C280.8,143.5 285.6,151.2 289.9,157.9 C294.2,164.6 298.3,170.8 301.4,178.0 C304.5,185.1 307.0,193.3 308.6,200.9 C310.1,208.6 310.6,217.7 310.6,223.9 C310.6,230.1 307.2,237.0 308.6,238.2 C309.9,239.4 313.5,232.6 318.6,231.1 C323.7,229.5 330.8,229.4 339.0,229.0 C347.1,228.7 362.7,203.1 367.4,229.0 C372.1,255.0 372.1,358.7 367.4,384.6 C362.7,410.5 346.2,385.1 339.0,384.6 C331.8,384.1 325.3,378.9 324.3,381.7 C323.3,384.6 332.0,395.6 333.0,401.8 C333.9,408.1 333.0,414.7 330.1,419.1 C327.2,423.5 322.9,426.2 315.7,428.2 C308.6,430.3 301.4,430.0 287.0,431.4 C272.7,432.8 248.8,435.0 229.6,436.9 C210.5,438.7 191.4,441.0 172.2,442.6 C153.1,444.2 133.9,445.4 114.8,446.3 C95.7,447.3 76.5,447.9 57.4,448.3 C38.3,448.8 13.9,449.0 0.0,449.2 C-13.9,449.4 -21.5,508.6 -25.8,449.5 C-30.1,390.4 -30.1,154.2 -25.8,94.7 Z" fill="#868686" filter="url(#b1)"/>
<path d="M0.0,92.4 C4.8,91.2 19.1,87.2 28.7,85.0 C38.3,82.8 47.8,80.7 57.4,79.2 C67.0,77.8 76.5,76.6 86.1,76.3 C95.7,76.1 105.2,76.6 114.8,77.5 C124.4,78.4 133.9,79.9 143.5,81.8 C153.1,83.7 162.6,86.1 172.2,89.0 C181.8,91.8 191.4,95.4 200.9,99.0 C210.5,102.6 220.1,106.4 229.6,110.5 C239.2,114.6 250.7,118.9 258.3,123.4 C266.0,128.0 270.3,132.0 275.5,137.8 C280.8,143.5 285.6,151.2 289.9,157.9 C294.2,164.6 298.3,170.8 301.4,178.0 C304.5,185.1 307.0,193.3 308.6,200.9 C310.1,208.6 310.6,217.7 310.6,223.9 C310.6,230.1 308.9,235.8 308.6,238.2" fill="none" stroke="#d0d0d0" stroke-width="1.8" filter="url(#b1)"/>
<path d="M0.0,445.5 C14.4,445.1 57.4,444.5 86.1,443.5 C114.8,442.4 148.3,440.7 172.2,439.2 C196.1,437.6 210.5,435.8 229.6,434.0 C248.8,432.2 272.7,430.0 287.0,428.5 C301.4,427.1 310.9,425.9 315.7,425.4" fill="none" stroke="#c0c0c0" stroke-width="1.6" filter="url(#b1)"/>
<path d="M-25.8,95.3 C-21.5,91.0 -13.9,96.7 0.0,94.7 C13.9,92.7 38.3,85.4 57.4,83.2 C76.5,81.1 95.7,80.4 114.8,81.8 C133.9,83.2 155.5,87.3 172.2,91.8 C189.0,96.4 203.3,103.8 215.3,109.1 C227.2,114.3 241.6,119.1 244.0,123.4 C246.4,127.7 239.2,134.9 229.6,134.9 C220.1,134.9 203.3,126.8 186.6,123.4 C169.8,120.1 148.3,116.2 129.2,114.8 C110.0,113.4 93.3,113.9 71.8,114.8 C50.2,115.8 16.3,119.6 0.0,120.6 C-16.3,121.5 -21.5,124.8 -25.8,120.6 C-30.1,116.3 -30.1,99.6 -25.8,95.3 Z" fill="#a4a4a4" filter="url(#b2)"/>
<line x1="71.8" y1="86.1" x2="172.2" y2="94.7" stroke="#eeeeee" stroke-width="1.4" stroke-linecap="round" filter="url(#b1)"/>
<line x1="126.3" y1="103.3" x2="178.0" y2="111.9" stroke="#eeeeee" stroke-width="1.8" stroke-linecap="round" filter="url(#b1)"/>
<line x1="149.3" y1="109.1" x2="186.6" y2="114.8" stroke="#eeeeee" stroke-width="1.4" stroke-linecap="round" filter="url(#b1)"/>
<line x1="8.6" y1="134.9" x2="34.4" y2="137.8" stroke="#eeeeee" stroke-width="1.8" stroke-linecap="round" filter="url(#b1)"/>
<line x1="28.7" y1="143.5" x2="45.9" y2="140.6" stroke="#eeeeee" stroke-width="1.4" stroke-linecap="round" filter="url(#b1)"/>
<line x1="80.4" y1="81.8" x2="94.7" y2="86.1" stroke="#eeeeee" stroke-width="1.4" stroke-linecap="round" filter="url(#b1)"/>
<line x1="186.6" y1="120.6" x2="229.6" y2="126.3" stroke="#eeeeee" stroke-width="1.4" stroke-linecap="round" filter="url(#b1)"/>
<path d="M-25.8,120.6 C-21.5,118.2 -16.3,121.3 0.0,120.6 C16.3,119.8 50.2,116.7 71.8,116.2 C93.3,115.8 110.0,115.5 129.2,117.7 C148.3,119.8 170.8,123.9 186.6,129.2 C202.4,134.4 213.8,142.1 223.9,149.3 C233.9,156.4 241.1,163.6 246.8,172.2 C252.6,180.8 256.4,191.4 258.3,200.9 C260.2,210.5 260.2,225.8 258.3,229.6 C256.4,233.4 250.7,231.5 246.8,223.9 C243.0,216.2 242.1,195.2 235.4,183.7 C228.7,172.2 219.1,162.6 206.7,155.0 C194.2,147.3 178.4,141.6 160.7,137.8 C143.0,133.9 127.2,132.5 100.5,132.0 C73.7,131.6 21.0,134.4 0.0,134.9 C-21.0,135.4 -21.5,137.3 -25.8,134.9 C-30.1,132.5 -30.1,122.9 -25.8,120.6 Z" fill="#8e8e8e" filter="url(#b2)"/>
<path d="M-25.8,127.7 C-21.5,127.7 -18.7,128.3 0.0,127.7 C18.7,127.1 59.8,122.8 86.1,124.0 C112.4,125.2 137.8,128.8 157.9,134.9 C178.0,141.0 193.7,150.2 206.7,160.7 C219.6,171.3 228.7,185.6 235.4,198.0 C242.1,210.5 244.9,229.1 246.8,235.4" fill="none" stroke="#5e5e5e" stroke-width="8.0" filter="url(#b2)"/>
<path d="M-25.8,113.4 C-21.5,113.2 -18.7,113.6 0.0,112.5 C18.7,111.4 59.8,106.4 86.1,106.8 C112.4,107.2 136.8,110.1 157.9,114.8 C178.9,119.5 196.6,127.2 212.4,134.9 C228.2,142.6 242.1,149.7 252.6,160.7 C263.1,171.7 271.7,194.2 275.5,200.9" fill="none" stroke="#6e6e6e" stroke-width="4.6" filter="url(#b2)"/>
<line x1="34.4" y1="137.8" x2="57.4" y2="134.9" stroke="#f0f0f0" stroke-width="2.3" stroke-linecap="round" filter="url(#b1)"/>
<line x1="114.8" y1="100.5" x2="137.8" y2="99.0" stroke="#f0f0f0" stroke-width="1.8" stroke-linecap="round" filter="url(#b1)"/>
<line x1="172.2" y1="109.1" x2="195.2" y2="120.6" stroke="#f0f0f0" stroke-width="1.8" stroke-linecap="round" filter="url(#b1)"/>
<line x1="200.9" y1="120.6" x2="226.8" y2="129.2" stroke="#f0f0f0" stroke-width="1.4" stroke-linecap="round" filter="url(#b1)"/>
<line x1="43.1" y1="89.0" x2="71.8" y2="86.1" stroke="#f0f0f0" stroke-width="1.4" stroke-linecap="round" filter="url(#b1)"/>
<line x1="235.4" y1="134.9" x2="252.6" y2="149.3" stroke="#f0f0f0" stroke-width="1.4" stroke-linecap="round" filter="url(#b1)"/>
<path d="M-25.8,134.3 C-21.5,88.7 -13.9,134.6 0.0,134.9 C13.9,135.2 39.7,135.4 57.4,136.3 C75.1,137.3 91.4,138.0 106.2,140.6 C121.0,143.3 134.4,146.9 146.4,152.1 C158.3,157.4 169.3,164.6 178.0,172.2 C186.6,179.9 193.3,188.5 198.0,198.0 C202.8,207.6 204.7,219.6 206.7,229.6 C208.6,239.7 209.5,248.3 209.5,258.3 C209.5,268.4 208.6,279.4 206.7,289.9 C204.7,300.4 202.1,310.9 198.0,321.5 C194.0,332.0 188.7,343.5 182.3,353.0 C175.8,362.6 168.6,371.7 159.3,378.9 C150.0,386.1 138.5,391.8 126.3,396.1 C114.1,400.4 100.0,402.8 86.1,404.7 C72.2,406.6 57.4,407.0 43.1,407.6 C28.7,408.2 11.5,408.0 0.0,408.2 C-11.5,408.3 -21.5,454.1 -25.8,408.4 C-30.1,362.8 -30.1,179.9 -25.8,134.3 Z" fill="#6a6a6a" filter="url(#b2)"/>
<path d="M-25.8,144.4 C-21.5,102.4 -13.9,144.7 0.0,144.9 C13.9,145.2 40.7,145.0 57.4,145.8 C74.1,146.6 87.1,147.3 100.5,149.8 C113.9,152.3 126.8,156.0 137.8,160.7 C148.8,165.4 158.8,171.3 166.5,178.0 C174.1,184.7 179.4,192.3 183.7,200.9 C188.0,209.5 190.4,220.1 192.3,229.6 C194.2,239.2 195.2,248.8 195.2,258.3 C195.2,267.9 194.2,277.5 192.3,287.0 C190.4,296.6 187.5,306.2 183.7,315.7 C179.9,325.3 175.1,335.3 169.3,344.4 C163.6,353.5 157.4,363.6 149.3,370.3 C141.1,377.0 131.1,380.8 120.6,384.6 C110.0,388.4 99.0,391.3 86.1,393.2 C73.2,395.1 57.4,395.5 43.1,396.1 C28.7,396.7 11.5,396.5 0.0,396.7 C-11.5,396.8 -21.5,439.0 -25.8,397.0 C-30.1,354.9 -30.1,186.4 -25.8,144.4 Z" fill="#303030" filter="url(#b2)"/>
<line x1="109.1" y1="178.0" x2="149.3" y2="160.7" stroke="#555" stroke-width="1.6" filter="url(#b1)"/>
<line x1="120.6" y1="206.7" x2="166.5" y2="189.4" stroke="#555" stroke-width="1.6" filter="url(#b1)"/>
<line x1="114.8" y1="235.4" x2="160.7" y2="223.9" stroke="#555" stroke-width="1.6" filter="url(#b1)"/>
<line x1="120.6" y1="258.3" x2="172.2" y2="252.6" stroke="#555" stroke-width="1.6" filter="url(#b1)"/>
<line x1="109.1" y1="275.5" x2="149.3" y2="287.0" stroke="#555" stroke-width="1.6" filter="url(#b1)"/>
<line x1="94.7" y1="310.0" x2="137.8" y2="304.2" stroke="#555" stroke-width="1.6" filter="url(#b1)"/>
<line x1="86.1" y1="330.1" x2="120.6" y2="321.5" stroke="#555" stroke-width="1.6" filter="url(#b1)"/>
<line x1="129.2" y1="287.0" x2="172.2" y2="298.5" stroke="#555" stroke-width="1.6" filter="url(#b1)"/>
<line x1="137.8" y1="200.9" x2="178.0" y2="218.1" stroke="#555" stroke-width="1.6" filter="url(#b1)"/>
<line x1="138.6" y1="240.0" x2="149.2" y2="245.0" stroke="#4a4a4a" stroke-width="1.1" filter="url(#b1)"/>
<line x1="138.6" y1="289.2" x2="152.7" y2="297.3" stroke="#4a4a4a" stroke-width="1.5" filter="url(#b1)"/>
<line x1="110.8" y1="361.7" x2="141.1" y2="358.9" stroke="#555" stroke-width="1.0" filter="url(#b1)"/>
<line x1="105.2" y1="268.3" x2="134.9" y2="271.5" stroke="#444" stroke-width="1.6" filter="url(#b1)"/>
<line x1="178.8" y1="355.9" x2="191.4" y2="351.6" stroke="#444" stroke-width="1.7" filter="url(#b1)"/>
<line x1="167.9" y1="354.3" x2="185.3" y2="351.0" stroke="#4a4a4a" stroke-width="1.0" filter="url(#b1)"/>
<line x1="178.7" y1="347.5" x2="188.4" y2="346.1" stroke="#444" stroke-width="0.9" filter="url(#b1)"/>
<line x1="117.1" y1="317.1" x2="141.0" y2="332.0" stroke="#4a4a4a" stroke-width="0.9" filter="url(#b1)"/>
<line x1="149.5" y1="350.9" x2="160.6" y2="343.5" stroke="#4a4a4a" stroke-width="0.9" filter="url(#b1)"/>
<line x1="181.6" y1="267.1" x2="203.4" y2="268.1" stroke="#555" stroke-width="1.2" filter="url(#b1)"/>
<line x1="132.4" y1="296.4" x2="143.1" y2="297.4" stroke="#555" stroke-width="1.7" filter="url(#b1)"/>
<line x1="162.9" y1="169.5" x2="177.3" y2="172.7" stroke="#555" stroke-width="1.5" filter="url(#b1)"/>
<line x1="164.5" y1="282.9" x2="173.0" y2="286.9" stroke="#444" stroke-width="1.8" filter="url(#b1)"/>
<line x1="117.1" y1="290.5" x2="126.6" y2="289.0" stroke="#4a4a4a" stroke-width="1.7" filter="url(#b1)"/>
<line x1="105.1" y1="348.0" x2="121.1" y2="342.2" stroke="#555" stroke-width="1.8" filter="url(#b1)"/>
<line x1="149.1" y1="164.6" x2="175.5" y2="159.1" stroke="#444" stroke-width="0.9" filter="url(#b1)"/>
<line x1="115.7" y1="218.0" x2="142.3" y2="211.7" stroke="#5e5e5e" stroke-width="0.9" filter="url(#b1)"/>
<line x1="169.0" y1="166.1" x2="193.7" y2="175.7" stroke="#444" stroke-width="1.1" filter="url(#b1)"/>
<line x1="168.4" y1="281.0" x2="178.4" y2="282.7" stroke="#4a4a4a" stroke-width="1.8" filter="url(#b1)"/>
<line x1="132.7" y1="240.0" x2="160.7" y2="235.5" stroke="#5e5e5e" stroke-width="1.0" filter="url(#b1)"/>
<line x1="174.6" y1="215.7" x2="182.8" y2="221.0" stroke="#555" stroke-width="1.1" filter="url(#b1)"/>
<line x1="110.3" y1="186.3" x2="120.6" y2="180.1" stroke="#444" stroke-width="1.0" filter="url(#b1)"/>
<line x1="131.6" y1="290.6" x2="161.9" y2="285.3" stroke="#555" stroke-width="1.3" filter="url(#b1)"/>
<line x1="121.0" y1="365.0" x2="146.0" y2="358.8" stroke="#4a4a4a" stroke-width="0.9" filter="url(#b1)"/>
<line x1="137.5" y1="310.2" x2="163.4" y2="306.6" stroke="#555" stroke-width="1.5" filter="url(#b1)"/>
<line x1="120.7" y1="287.6" x2="142.9" y2="283.5" stroke="#4a4a4a" stroke-width="1.1" filter="url(#b1)"/>
<line x1="106.9" y1="330.3" x2="132.1" y2="319.5" stroke="#555" stroke-width="1.7" filter="url(#b1)"/>
<line x1="113.9" y1="261.3" x2="136.1" y2="262.5" stroke="#4a4a4a" stroke-width="1.0" filter="url(#b1)"/>
<line x1="140.4" y1="361.8" x2="158.4" y2="372.3" stroke="#4a4a4a" stroke-width="1.4" filter="url(#b1)"/>
<line x1="150.2" y1="253.3" x2="165.8" y2="253.8" stroke="#4a4a4a" stroke-width="1.7" filter="url(#b1)"/>
<line x1="149.1" y1="363.7" x2="158.6" y2="360.4" stroke="#555" stroke-width="0.9" filter="url(#b1)"/>
<line x1="161.0" y1="257.1" x2="180.6" y2="260.3" stroke="#4a4a4a" stroke-width="1.5" filter="url(#b1)"/>
<line x1="97.5" y1="212.5" x2="116.4" y2="209.5" stroke="#444" stroke-width="1.7" filter="url(#b1)"/>
<line x1="98.1" y1="287.5" x2="120.3" y2="292.3" stroke="#444" stroke-width="1.4" filter="url(#b1)"/>
<line x1="102.4" y1="168.0" x2="125.1" y2="155.6" stroke="#4a4a4a" stroke-width="1.2" filter="url(#b1)"/>
<path d="M-25.8,147.8 C-23.0,121.9 -17.3,148.1 -8.6,147.8 C0.1,147.5 15.5,145.2 26.4,146.1 C37.3,147.0 47.9,149.3 56.5,153.0 C65.2,156.6 71.4,161.3 78.4,167.9 C85.3,174.6 93.8,182.8 98.5,192.9 C103.1,202.9 105.5,217.3 106.5,228.2 C107.5,239.0 107.0,248.9 104.5,258.0 C102.0,267.2 97.1,276.0 91.6,283.0 C86.1,290.0 79.8,296.1 71.5,299.9 C63.1,303.8 51.6,305.0 41.6,306.0 C31.6,307.0 19.9,306.4 11.5,306.0 C3.1,305.5 -2.4,303.6 -8.6,303.1 C-14.8,302.6 -23.0,329.0 -25.8,303.1 C-28.7,277.2 -28.7,173.7 -25.8,147.8 Z" fill="#a8a8a8" filter="url(#b4)"/>
<ellipse cx="31.6" cy="179.4" rx="37.3" ry="28.7" fill="#dedede" filter="url(#b4)"/>
<ellipse cx="11.5" cy="200.9" rx="20.1" ry="34.4" fill="#d4d4d4" filter="url(#b4)"/>
<ellipse cx="48.8" cy="271.2" rx="51.7" ry="27.3" fill="#e2e2e2" filter="url(#b4)"/>
<path d="M11.5,213.8 L91.8,244.0" stroke="#8c8c8c" stroke-width="17.2" stroke-linecap="round" filter="url(#b4)"/>
<circle cx="20.1" cy="328.6" r="18.9" fill="#f0f0f0" filter="url(#b1)"/>
<circle cx="51.7" cy="314.3" r="12.1" fill="#d8d8d8" filter="url(#b2)"/>
<ellipse cx="86.1" cy="310.0" rx="8.6" ry="5.7" fill="#c8c8c8" filter="url(#b2)"/>
<ellipse cx="66.0" cy="333.0" rx="11.5" ry="5.7" fill="#bbbbbb" filter="url(#b2)"/>
<ellipse cx="34.4" cy="373.1" rx="40.2" ry="17.2" fill="#4a4a4a" filter="url(#b4)"/>
<path d="M200.9,160.7 C206.7,156.0 220.1,166.5 229.6,172.2 C239.2,178.0 251.1,185.6 258.3,195.2 C265.5,204.7 271.2,219.1 272.7,229.6 C274.1,240.1 270.3,249.7 266.9,258.3 C263.6,266.9 257.8,276.5 252.6,281.3 C247.3,286.1 241.1,288.9 235.4,287.0 C229.6,285.1 222.9,278.4 218.1,269.8 C213.4,261.2 210.5,246.8 206.7,235.4 C202.8,223.9 196.1,213.4 195.2,200.9 C194.2,188.5 195.2,165.5 200.9,160.7 Z" fill="#969696" filter="url(#b2)"/>
<path d="M229.6,178.0 C233.4,176.0 245.9,182.7 252.6,189.4 C259.3,196.1 267.4,208.6 269.8,218.1 C272.2,227.7 270.3,240.1 266.9,246.8 C263.6,253.5 254.5,260.2 249.7,258.3 C244.9,256.4 241.6,244.9 238.2,235.4 C234.9,225.8 231.1,210.5 229.6,200.9 C228.2,191.4 225.8,179.9 229.6,178.0 Z" fill="#b8b8b8" filter="url(#b4)"/>
<path d="M183.7,183.7 C185.6,178.9 194.2,192.3 198.0,200.9 C201.9,209.5 204.3,222.9 206.7,235.4 C209.1,247.8 213.4,265.5 212.4,275.5 C211.4,285.6 204.7,295.6 200.9,295.6 C197.1,295.6 191.8,286.5 189.4,275.5 C187.0,264.5 187.5,244.9 186.6,229.6 C185.6,214.3 181.8,188.5 183.7,183.7 Z" fill="#5c5c5c" filter="url(#b2)"/>
<path d="M266.9,149.3 C269.3,149.3 279.4,162.6 284.2,172.2 C288.9,181.8 293.7,195.2 295.6,206.7 C297.6,218.1 297.6,235.8 295.6,241.1 C293.7,246.4 287.0,244.9 284.2,238.2 C281.3,231.5 280.8,211.9 278.4,200.9 C276.0,189.9 271.7,180.8 269.8,172.2 C267.9,163.6 264.5,149.3 266.9,149.3 Z" fill="#747474" filter="url(#b2)"/>
<path d="M160.7,367.4 C167.4,358.3 187.0,354.5 200.9,353.0 C214.8,351.6 229.6,355.9 244.0,358.8 C258.3,361.7 275.1,366.0 287.0,370.3 C299.0,374.6 309.5,378.4 315.7,384.6 C321.9,390.8 325.3,401.4 324.3,407.6 C323.4,413.8 321.0,419.1 310.0,421.9 C299.0,424.8 276.5,424.8 258.3,424.8 C240.1,424.8 217.2,424.8 200.9,421.9 C184.7,419.1 167.4,416.7 160.7,407.6 C154.0,398.5 154.0,376.5 160.7,367.4 Z" fill="#797979" filter="url(#b2)"/>
<path d="M160.7,370.3 C167.4,367.9 186.6,357.6 200.9,355.9 C215.3,354.2 232.0,357.3 246.8,360.2 C261.7,363.1 277.9,368.6 289.9,373.1 C301.9,377.7 313.8,385.1 318.6,387.5" fill="none" stroke="#a8a8a8" stroke-width="2" filter="url(#b1)"/>
<path d="M206.7,333.0 C211.4,334.9 226.8,341.1 235.4,344.4 C244.0,347.8 251.6,350.7 258.3,353.0 C265.0,355.4 272.7,357.8 275.5,358.8" fill="none" stroke="#c0c0c0" stroke-width="3" filter="url(#b1)"/>
<path d="M229.6,301.4 C232.5,306.2 242.1,321.5 246.8,330.1 C251.6,338.7 256.4,349.2 258.3,353.0" fill="none" stroke="#b0b0b0" stroke-width="2" filter="url(#b1)"/>
<path d="M155.0,378.9 C157.9,374.6 167.4,359.7 172.2,353.0 C177.0,346.3 179.9,344.9 183.7,338.7 C187.5,332.5 193.3,319.6 195.2,315.7" fill="none" stroke="#9a9a9a" stroke-width="6" filter="url(#b2)"/>
<path d="M308.6,239.7 C306.4,245.2 297.8,260.0 295.6,272.7 C293.5,285.4 294.2,302.8 295.6,315.7 C297.1,328.6 300.4,339.6 304.2,350.2 C308.1,360.7 316.2,374.1 318.6,378.9" fill="none" stroke="#333" stroke-width="3" filter="url(#b1)"/>
<path d="M315.7,246.8 C320.6,239.7 330.4,244.5 339.0,244.0 C347.6,243.5 362.7,222.4 367.4,244.0 C372.1,265.5 372.1,351.6 367.4,373.1 C362.7,394.7 346.6,373.6 339.0,373.1 C331.3,372.7 325.8,377.4 321.5,370.3 C317.1,363.1 314.8,344.0 312.9,330.1 C310.9,316.2 309.5,300.9 310.0,287.0 C310.5,273.2 310.9,254.0 315.7,246.8 Z" fill="#8a8a8a" filter="url(#b1)"/>
<path d="M321.5,252.6 C323.9,246.8 332.3,250.2 339.0,249.7 C345.7,249.2 357.9,243.5 361.7,249.7 C365.4,255.9 365.4,280.8 361.7,287.0 C357.9,293.2 345.2,287.5 339.0,287.0 C332.8,286.5 327.3,289.9 324.3,284.2 C321.4,278.4 319.0,258.3 321.5,252.6 Z" fill="#a0a0a0" filter="url(#b2)"/>
<ellipse cx="321.5" cy="327.2" rx="4.0" ry="3.4" fill="#e0e0e0" filter="url(#b1)"/>
<ellipse cx="334.4" cy="355.9" rx="4.0" ry="3.4" fill="#e0e0e0" filter="url(#b1)"/>
<path d="M298.5,353.0 C300.9,355.4 309.0,362.6 312.9,367.4 C316.7,372.2 320.0,379.4 321.5,381.7" fill="none" stroke="#d0d0d0" stroke-width="3" filter="url(#b1)"/>
<clipPath id="cbodyB"><path d="M-25.8,94.7 C-21.5,35.2 -9.1,94.0 0.0,92.4 C9.1,90.8 19.1,87.2 28.7,85.0 C38.3,82.8 47.8,80.7 57.4,79.2 C67.0,77.8 76.5,76.6 86.1,76.3 C95.7,76.1 105.2,76.6 114.8,77.5 C124.4,78.4 133.9,79.9 143.5,81.8 C153.1,83.7 162.6,86.1 172.2,89.0 C181.8,91.8 191.4,95.4 200.9,99.0 C210.5,102.6 220.1,106.4 229.6,110.5 C239.2,114.6 250.7,118.9 258.3,123.4 C266.0,128.0 270.3,132.0 275.5,137.8 C280.8,143.5 285.6,151.2 289.9,157.9 C294.2,164.6 298.3,170.8 301.4,178.0 C304.5,185.1 307.0,193.3 308.6,200.9 C310.1,208.6 310.6,217.7 310.6,223.9 C310.6,230.1 307.2,237.0 308.6,238.2 C309.9,239.4 313.5,232.6 318.6,231.1 C323.7,229.5 330.8,229.4 339.0,229.0 C347.1,228.7 362.7,203.1 367.4,229.0 C372.1,255.0 372.1,358.7 367.4,384.6 C362.7,410.5 346.2,385.1 339.0,384.6 C331.8,384.1 325.3,378.9 324.3,381.7 C323.3,384.6 332.0,395.6 333.0,401.8 C333.9,408.1 333.0,414.7 330.1,419.1 C327.2,423.5 322.9,426.2 315.7,428.2 C308.6,430.3 301.4,430.0 287.0,431.4 C272.7,432.8 248.8,435.0 229.6,436.9 C210.5,438.7 191.4,441.0 172.2,442.6 C153.1,444.2 133.9,445.4 114.8,446.3 C95.7,447.3 76.5,447.9 57.4,448.3 C38.3,448.8 13.9,449.0 0.0,449.2 C-13.9,449.4 -21.5,508.6 -25.8,449.5 C-30.1,390.4 -30.1,154.2 -25.8,94.7 Z"/></clipPath>
<g clip-path="url(#cbodyB)"><rect x="0" y="0" width="338.5" height="468" filter="url(#noise2)" opacity="0.18"/><rect x="0" y="0" width="338.5" height="468" filter="url(#noise)" opacity="0.1"/></g>
</g>
<rect x="388.3" y="120.5" width="108" height="167" rx="2" fill="none" stroke="#fff" stroke-width="6"/>
<line x1="275" y1="30.3" x2="434.2" y2="203" stroke="#14142a" stroke-width="3.2" stroke-opacity="0.4"/><line x1="275" y1="30.3" x2="434.2" y2="203" stroke="#fff000" stroke-width="2"/>
<ellipse cx="442" cy="212.7" rx="11.8" ry="10.4" fill="none" stroke="#14142a" stroke-width="3.8" stroke-opacity="0.4"/><ellipse cx="442" cy="212.7" rx="11.8" ry="10.4" fill="none" stroke="#fff000" stroke-width="2.6"/>
<line x1="216.6" y1="142.4" x2="427.5" y2="228.8" stroke="#14142a" stroke-width="3.2" stroke-opacity="0.4"/><line x1="216.6" y1="142.4" x2="427.5" y2="228.8" stroke="#f2309a" stroke-width="2"/>
<ellipse cx="435.5" cy="232.6" rx="7.2" ry="6.4" fill="none" stroke="#14142a" stroke-width="3.6" stroke-opacity="0.4"/><ellipse cx="435.5" cy="232.6" rx="7.2" ry="6.4" fill="none" stroke="#f2309a" stroke-width="2.4"/>
<line x1="428.2" y1="271" x2="485.6" y2="495" stroke="#14142a" stroke-width="3.2" stroke-opacity="0.4"/><line x1="428.2" y1="271" x2="485.6" y2="495" stroke="#f7aa1f" stroke-width="2"/>
<ellipse cx="426.6" cy="263" rx="8" ry="6.9" fill="none" stroke="#14142a" stroke-width="3.6" stroke-opacity="0.4"/><ellipse cx="426.6" cy="263" rx="8" ry="6.9" fill="none" stroke="#f7aa1f" stroke-width="2.4"/>
<line x1="216.3" y1="423" x2="331" y2="369" stroke="#14142a" stroke-width="3.2" stroke-opacity="0.4"/><line x1="216.3" y1="423" x2="331" y2="369" stroke="#4cb0f4" stroke-width="2"/>
<ellipse cx="340.5" cy="365.3" rx="9.8" ry="8.6" fill="none" stroke="#14142a" stroke-width="3.6" stroke-opacity="0.4"/><ellipse cx="340.5" cy="365.3" rx="9.8" ry="8.6" fill="none" stroke="#4cb0f4" stroke-width="2.4"/>
<rect x="392" y="742.4" width="117" height="177.2" rx="2" fill="none" stroke="#fff" stroke-width="6"/>
<line x1="342.5" y1="622" x2="449.9" y2="845" stroke="#14142a" stroke-width="3.2" stroke-opacity="0.4"/><line x1="342.5" y1="622" x2="449.9" y2="845" stroke="#fff000" stroke-width="2"/>
<circle cx="453.1" cy="852.4" r="6.8" fill="none" stroke="#14142a" stroke-width="3.6" stroke-opacity="0.4"/><circle cx="453.1" cy="852.4" r="6.8" fill="none" stroke="#fff000" stroke-width="2.4"/>
<line x1="213.6" y1="715.3" x2="437.7" y2="861.3" stroke="#14142a" stroke-width="3.2" stroke-opacity="0.4"/><line x1="213.6" y1="715.3" x2="437.7" y2="861.3" stroke="#f2309a" stroke-width="2"/>
<circle cx="444.7" cy="866.4" r="7.1" fill="none" stroke="#14142a" stroke-width="3.6" stroke-opacity="0.4"/><circle cx="444.7" cy="866.4" r="7.1" fill="none" stroke="#f2309a" stroke-width="2.4"/>
<line x1="446.5" y1="902.9" x2="457.7" y2="1090" stroke="#14142a" stroke-width="3.2" stroke-opacity="0.4"/><line x1="446.5" y1="902.9" x2="457.7" y2="1090" stroke="#f7aa1f" stroke-width="2"/>
<ellipse cx="446.4" cy="895.2" rx="7.5" ry="6.6" fill="none" stroke="#14142a" stroke-width="3.6" stroke-opacity="0.4"/><ellipse cx="446.4" cy="895.2" rx="7.5" ry="6.6" fill="none" stroke="#f7aa1f" stroke-width="2.4"/>
<line x1="213.3" y1="1068" x2="389" y2="975.8" stroke="#14142a" stroke-width="3.2" stroke-opacity="0.4"/><line x1="213.3" y1="1068" x2="389" y2="975.8" stroke="#4cb0f4" stroke-width="2"/>
<circle cx="397.5" cy="972.9" r="7.8" fill="none" stroke="#14142a" stroke-width="3.6" stroke-opacity="0.4"/><circle cx="397.5" cy="972.9" r="7.8" fill="none" stroke="#4cb0f4" stroke-width="2.4"/>
<rect x="619.5" y="30" width="345.9" height="465.5" fill="#35325f"/>
<line x1="696.6999999999999" x2="696.6999999999999" y1="30" y2="495.5" stroke="#3d3a72" stroke-width="1.2"/>
<line x1="694.9" x2="694.9" y1="30" y2="495.5" stroke="#1d1b35" stroke-width="1.8"/>
<line x1="772.6999999999999" x2="772.6999999999999" y1="30" y2="495.5" stroke="#3d3a72" stroke-width="1.2"/>
<line x1="770.9" x2="770.9" y1="30" y2="495.5" stroke="#1d1b35" stroke-width="1.8"/>
<line x1="848.3" x2="848.3" y1="30" y2="495.5" stroke="#3d3a72" stroke-width="1.2"/>
<line x1="846.5" x2="846.5" y1="30" y2="495.5" stroke="#1d1b35" stroke-width="1.8"/>
<line x1="923.5999999999999" x2="923.5999999999999" y1="30" y2="495.5" stroke="#3d3a72" stroke-width="1.2"/>
<line x1="921.8" x2="921.8" y1="30" y2="495.5" stroke="#1d1b35" stroke-width="1.8"/>
<line x1="619.5" x2="965.4" y1="88.4" y2="88.4" stroke="#29274a" stroke-width="1.2"/>
<line x1="619.5" x2="965.4" y1="91.6" y2="91.6" stroke="#29274a" stroke-width="1.2"/>
<line x1="619.5" x2="965.4" y1="90" y2="90" stroke="#4e4b98" stroke-width="1.6"/>
<line x1="619.5" x2="965.4" y1="148.4" y2="148.4" stroke="#29274a" stroke-width="1.2"/>
<line x1="619.5" x2="965.4" y1="151.6" y2="151.6" stroke="#29274a" stroke-width="1.2"/>
<line x1="619.5" x2="965.4" y1="150" y2="150" stroke="#4e4b98" stroke-width="1.6"/>
<line x1="619.5" x2="965.4" y1="208.4" y2="208.4" stroke="#29274a" stroke-width="1.2"/>
<line x1="619.5" x2="965.4" y1="211.6" y2="211.6" stroke="#29274a" stroke-width="1.2"/>
<line x1="619.5" x2="965.4" y1="210" y2="210" stroke="#4e4b98" stroke-width="1.6"/>
<line x1="619.5" x2="965.4" y1="268.4" y2="268.4" stroke="#29274a" stroke-width="1.2"/>
<line x1="619.5" x2="965.4" y1="271.6" y2="271.6" stroke="#29274a" stroke-width="1.2"/>
<line x1="619.5" x2="965.4" y1="270" y2="270" stroke="#4e4b98" stroke-width="1.6"/>
<line x1="619.5" x2="965.4" y1="328.4" y2="328.4" stroke="#29274a" stroke-width="1.2"/>
<line x1="619.5" x2="965.4" y1="331.6" y2="331.6" stroke="#29274a" stroke-width="1.2"/>
<line x1="619.5" x2="965.4" y1="330" y2="330" stroke="#4e4b98" stroke-width="1.6"/>
<line x1="619.5" x2="965.4" y1="388.4" y2="388.4" stroke="#29274a" stroke-width="1.2"/>
<line x1="619.5" x2="965.4" y1="391.6" y2="391.6" stroke="#29274a" stroke-width="1.2"/>
<line x1="619.5" x2="965.4" y1="390" y2="390" stroke="#4e4b98" stroke-width="1.6"/>
<line x1="619.5" x2="965.4" y1="448.4" y2="448.4" stroke="#29274a" stroke-width="1.2"/>
<line x1="619.5" x2="965.4" y1="451.6" y2="451.6" stroke="#29274a" stroke-width="1.2"/>
<line x1="619.5" x2="965.4" y1="450" y2="450" stroke="#4e4b98" stroke-width="1.6"/>
<line x1="619.5" x2="965.4" y1="30.8" y2="30.8" stroke="#4e4b98" stroke-width="1.6"/>
<line x1="964.8" x2="964.8" y1="30" y2="495.5" stroke="#46438a" stroke-width="1.2"/>
<line x1="620.0" x2="620.0" y1="30" y2="495.5" stroke="#403d80" stroke-width="1"/>
<polyline points="619.6,450.3 633.3,452.7 647.0,459.7 676.0,464.9 697.3,467.0 721.7,466.4 776.6,468.0 828.4,468.0 869.5,467.6 880.2,464.3 895.4,465.8 919.8,466.4 947.3,467.6 964.9,465.8" fill="none" stroke="#1a2a4a" stroke-opacity="0.45" stroke-width="5" stroke-linejoin="round" stroke-linecap="round"/>
<polyline points="619.6,450.3 674.4,449.7 680.5,429.8 688.2,414.6 715.6,381.1 736.9,376.5 755.2,371.9 779.6,368.9 797.9,358.2 807.0,356.7 825.3,356.7 839.0,343.0 846.7,341.4 858.9,340.2 892.4,339.6 907.6,336.9 922.9,329.9 935.1,327.7 950.3,322.2 964.9,322.5" fill="none" stroke="#1a2a4a" stroke-opacity="0.45" stroke-width="5" stroke-linejoin="round" stroke-linecap="round"/>
<polyline points="619.6,450.3 645.5,451.8 676.0,453.0 688.2,448.7 703.4,429.8 718.6,411.6 729.3,397.8 741.5,387.2 749.1,375.0 758.3,356.7 770.5,338.4 787.2,336.9 797.9,332.3 810.1,325.6 822.3,321.0 846.7,320.1 858.9,318.6 880.2,313.1 887.8,311.0 894.8,310.4 903.1,298.8 912.2,289.6 925.9,286.0 938.1,285.7 950.3,287.5 964.9,288.4" fill="none" stroke="#1a2a4a" stroke-opacity="0.45" stroke-width="5" stroke-linejoin="round" stroke-linecap="round"/>
<polyline points="619.6,450.3 659.2,450.3 666.8,442.0 674.4,432.3 677.5,414.6 680.5,390.2 684.5,368.9 688.2,350.6 692.7,329.3 697.3,317.1 701.9,300.3 708.0,286.6 712.5,278.1 718.6,268.3 721.7,262.9 729.3,253.7 746.1,241.6 758.3,223.3 770.5,215.6 782.7,203.5 797.9,188.8 813.1,177.5 825.3,170.8 833.0,170.8 842.1,167.8 858.9,157.7 872.6,148.6 881.7,139.4 890.9,138.5 907.6,134.9 921.3,122.7 935.1,119.6 953.4,109.6 964.9,109.3" fill="none" stroke="#1a2a4a" stroke-opacity="0.45" stroke-width="5" stroke-linejoin="round" stroke-linecap="round"/>
<polyline points="619.6,450.3 633.3,452.7 647.0,459.7 676.0,464.9 697.3,467.0 721.7,466.4 776.6,468.0 828.4,468.0 869.5,467.6 880.2,464.3 895.4,465.8 919.8,466.4 947.3,467.6 964.9,465.8" fill="none" stroke="#f2309a" stroke-width="3" stroke-linejoin="round" stroke-linecap="round"/>
<polyline points="619.6,450.3 674.4,449.7 680.5,429.8 688.2,414.6 715.6,381.1 736.9,376.5 755.2,371.9 779.6,368.9 797.9,358.2 807.0,356.7 825.3,356.7 839.0,343.0 846.7,341.4 858.9,340.2 892.4,339.6 907.6,336.9 922.9,329.9 935.1,327.7 950.3,322.2 964.9,322.5" fill="none" stroke="#f7aa1f" stroke-width="3" stroke-linejoin="round" stroke-linecap="round"/>
<polyline points="619.6,450.3 645.5,451.8 676.0,453.0 688.2,448.7 703.4,429.8 718.6,411.6 729.3,397.8 741.5,387.2 749.1,375.0 758.3,356.7 770.5,338.4 787.2,336.9 797.9,332.3 810.1,325.6 822.3,321.0 846.7,320.1 858.9,318.6 880.2,313.1 887.8,311.0 894.8,310.4 903.1,298.8 912.2,289.6 925.9,286.0 938.1,285.7 950.3,287.5 964.9,288.4" fill="none" stroke="#4cb0f4" stroke-width="3" stroke-linejoin="round" stroke-linecap="round"/>
<polyline points="619.6,450.3 659.2,450.3 666.8,442.0 674.4,432.3 677.5,414.6 680.5,390.2 684.5,368.9 688.2,350.6 692.7,329.3 697.3,317.1 701.9,300.3 708.0,286.6 712.5,278.1 718.6,268.3 721.7,262.9 729.3,253.7 746.1,241.6 758.3,223.3 770.5,215.6 782.7,203.5 797.9,188.8 813.1,177.5 825.3,170.8 833.0,170.8 842.1,167.8 858.9,157.7 872.6,148.6 881.7,139.4 890.9,138.5 907.6,134.9 921.3,122.7 935.1,119.6 953.4,109.6 964.9,109.3" fill="none" stroke="#fff000" stroke-width="3" stroke-linejoin="round" stroke-linecap="round"/>
<rect x="621.2" y="622.5" width="343.0999999999999" height="467.5" fill="#35325f"/>
<line x1="710.5" x2="710.5" y1="622.5" y2="1090" stroke="#3d3a72" stroke-width="1.2"/>
<line x1="708.7" x2="708.7" y1="622.5" y2="1090" stroke="#1d1b35" stroke-width="1.8"/>
<line x1="800.1999999999999" x2="800.1999999999999" y1="622.5" y2="1090" stroke="#3d3a72" stroke-width="1.2"/>
<line x1="798.4" x2="798.4" y1="622.5" y2="1090" stroke="#1d1b35" stroke-width="1.8"/>
<line x1="890.3" x2="890.3" y1="622.5" y2="1090" stroke="#3d3a72" stroke-width="1.2"/>
<line x1="888.5" x2="888.5" y1="622.5" y2="1090" stroke="#1d1b35" stroke-width="1.8"/>
<line x1="621.2" x2="964.3" y1="689.1999999999999" y2="689.1999999999999" stroke="#29274a" stroke-width="1.2"/>
<line x1="621.2" x2="964.3" y1="692.4" y2="692.4" stroke="#29274a" stroke-width="1.2"/>
<line x1="621.2" x2="964.3" y1="690.8" y2="690.8" stroke="#4e4b98" stroke-width="1.6"/>
<line x1="621.2" x2="964.3" y1="757.6" y2="757.6" stroke="#29274a" stroke-width="1.2"/>
<line x1="621.2" x2="964.3" y1="760.8000000000001" y2="760.8000000000001" stroke="#29274a" stroke-width="1.2"/>
<line x1="621.2" x2="964.3" y1="759.2" y2="759.2" stroke="#4e4b98" stroke-width="1.6"/>
<line x1="621.2" x2="964.3" y1="825.3" y2="825.3" stroke="#29274a" stroke-width="1.2"/>
<line x1="621.2" x2="964.3" y1="828.5" y2="828.5" stroke="#29274a" stroke-width="1.2"/>
<line x1="621.2" x2="964.3" y1="826.9" y2="826.9" stroke="#4e4b98" stroke-width="1.6"/>
<line x1="621.2" x2="964.3" y1="893.8" y2="893.8" stroke="#29274a" stroke-width="1.2"/>
<line x1="621.2" x2="964.3" y1="897.0" y2="897.0" stroke="#29274a" stroke-width="1.2"/>
<line x1="621.2" x2="964.3" y1="895.4" y2="895.4" stroke="#4e4b98" stroke-width="1.6"/>
<line x1="621.2" x2="964.3" y1="961.4" y2="961.4" stroke="#29274a" stroke-width="1.2"/>
<line x1="621.2" x2="964.3" y1="964.6" y2="964.6" stroke="#29274a" stroke-width="1.2"/>
<line x1="621.2" x2="964.3" y1="963" y2="963" stroke="#4e4b98" stroke-width="1.6"/>
<line x1="621.2" x2="964.3" y1="1029.6000000000001" y2="1029.6000000000001" stroke="#29274a" stroke-width="1.2"/>
<line x1="621.2" x2="964.3" y1="1032.8" y2="1032.8" stroke="#29274a" stroke-width="1.2"/>
<line x1="621.2" x2="964.3" y1="1031.2" y2="1031.2" stroke="#4e4b98" stroke-width="1.6"/>
<line x1="621.2" x2="964.3" y1="623.3" y2="623.3" stroke="#4e4b98" stroke-width="1.6"/>
<line x1="963.6999999999999" x2="963.6999999999999" y1="622.5" y2="1090" stroke="#46438a" stroke-width="1.2"/>
<line x1="621.7" x2="621.7" y1="622.5" y2="1090" stroke="#403d80" stroke-width="1"/>
<polyline points="621.1,1031.3 651.6,1033.8 669.9,1037.4 683.6,1038.6 691.2,1030.7 703.4,1012.4 712.5,991.1 718.6,978.0 732.4,978.3 740.0,974.3 749.1,970.3 755.2,962.1 767.4,949.9 782.7,940.8 801.0,940.8 816.2,939.9 831.4,929.2 852.8,928.6 865.0,926.5 880.2,927.7 900.0,914.0 913.7,914.0 938.1,916.1 964.0,915.5" fill="none" stroke="#1a2a4a" stroke-opacity="0.45" stroke-width="5" stroke-linejoin="round" stroke-linecap="round"/>
<polyline points="621.1,1031.3 651.6,1031.3 666.8,1021.6 676.0,1006.3 685.1,975.9 694.3,936.2 703.4,896.6 706.4,875.0 717.1,846.1 733.9,829.4 749.1,822.7 767.4,817.8 785.7,818.7 797.9,822.7 813.1,819.6 828.4,809.6 843.6,805.0 865.0,815.7 880.2,836.1 898.5,833.9 912.2,833.9 929.0,841.0 935.1,840.0 950.3,831.5 964.0,823.3" fill="none" stroke="#1a2a4a" stroke-opacity="0.45" stroke-width="5" stroke-linejoin="round" stroke-linecap="round"/>
<polyline points="621.1,1031.3 663.8,1033.2 685.1,1017.0 689.7,991.1 694.9,951.5 701.9,913.4 706.5,902.7 718.6,878.1 730.8,853.7 743.0,835.5 755.2,820.2 767.4,810.5 782.7,811.1 797.9,813.2 814.7,805.9 831.4,805.9 846.7,808.0 861.9,794.3 871.1,777.5 875.6,765.3 882.3,755.0 907.6,757.7 919.8,756.2 935.1,747.7 950.3,742.5 964.0,742.8" fill="none" stroke="#1a2a4a" stroke-opacity="0.45" stroke-width="5" stroke-linejoin="round" stroke-linecap="round"/>
<polyline points="621.1,1031.3 657.7,1031.6 666.8,1030.1 682.1,1015.5 688.2,988.0 694.3,951.5 700.4,905.7 705.0,875.0 715.6,846.0 737.0,826.3 752.2,808.0 767.4,787.3 781.1,786.7 791.8,780.6 813.1,759.3 834.5,750.1 849.7,751.0 861.9,754.7 880.2,766.9 889.3,769.3 904.6,769.3 916.8,765.3 932.0,753.2 947.3,737.9 956.4,722.7 964.0,714.4" fill="none" stroke="#1a2a4a" stroke-opacity="0.45" stroke-width="5" stroke-linejoin="round" stroke-linecap="round"/>
<polyline points="621.1,1031.3 651.6,1033.8 669.9,1037.4 683.6,1038.6 691.2,1030.7 703.4,1012.4 712.5,991.1 718.6,978.0 732.4,978.3 740.0,974.3 749.1,970.3 755.2,962.1 767.4,949.9 782.7,940.8 801.0,940.8 816.2,939.9 831.4,929.2 852.8,928.6 865.0,926.5 880.2,927.7 900.0,914.0 913.7,914.0 938.1,916.1 964.0,915.5" fill="none" stroke="#4cb0f4" stroke-width="3" stroke-linejoin="round" stroke-linecap="round"/>
<polyline points="621.1,1031.3 651.6,1031.3 666.8,1021.6 676.0,1006.3 685.1,975.9 694.3,936.2 703.4,896.6 706.4,875.0 717.1,846.1 733.9,829.4 749.1,822.7 767.4,817.8 785.7,818.7 797.9,822.7 813.1,819.6 828.4,809.6 843.6,805.0 865.0,815.7 880.2,836.1 898.5,833.9 912.2,833.9 929.0,841.0 935.1,840.0 950.3,831.5 964.0,823.3" fill="none" stroke="#f7aa1f" stroke-width="3" stroke-linejoin="round" stroke-linecap="round"/>
<polyline points="621.1,1031.3 663.8,1033.2 685.1,1017.0 689.7,991.1 694.9,951.5 701.9,913.4 706.5,902.7 718.6,878.1 730.8,853.7 743.0,835.5 755.2,820.2 767.4,810.5 782.7,811.1 797.9,813.2 814.7,805.9 831.4,805.9 846.7,808.0 861.9,794.3 871.1,777.5 875.6,765.3 882.3,755.0 907.6,757.7 919.8,756.2 935.1,747.7 950.3,742.5 964.0,742.8" fill="none" stroke="#f2309a" stroke-width="3" stroke-linejoin="round" stroke-linecap="round"/>
<polyline points="621.1,1031.3 657.7,1031.6 666.8,1030.1 682.1,1015.5 688.2,988.0 694.3,951.5 700.4,905.7 705.0,875.0 715.6,846.0 737.0,826.3 752.2,808.0 767.4,787.3 781.1,786.7 791.8,780.6 813.1,759.3 834.5,750.1 849.7,751.0 861.9,754.7 880.2,766.9 889.3,769.3 904.6,769.3 916.8,765.3 932.0,753.2 947.3,737.9 956.4,722.7 964.0,714.4" fill="none" stroke="#fff000" stroke-width="3" stroke-linejoin="round" stroke-linecap="round"/>
<rect x="964.8" y="601.2" width="10.8" height="20.5" fill="#11111d"/>

<g clip-path="url(#clipC)">
<rect x="212.5" y="1201" width="380.5" height="292.2" fill="#e8e8e8"/>
<ellipse cx="404" cy="1345" rx="30" ry="32" fill="#dedede" filter="url(#cb12)"/>
<ellipse cx="312" cy="1330" rx="6" ry="16" fill="#c6c6c6" filter="url(#cb3)"/>
<ellipse cx="309" cy="1350" rx="5" ry="8" fill="#cfcfcf" filter="url(#cb3)"/>
<ellipse cx="295" cy="1361" rx="4" ry="4" fill="#a8a8a8" filter="url(#cb3)"/>
<ellipse cx="330" cy="1383" rx="12" ry="8" fill="#d4d4d4" filter="url(#cb5)"/>
<ellipse cx="345" cy="1360" rx="10" ry="14" fill="#dadada" filter="url(#cb8)"/>
<ellipse cx="380" cy="1380" rx="9" ry="8" fill="#c4c4c4" filter="url(#cb5)"/>
<ellipse cx="412" cy="1381" rx="9" ry="8" fill="#c4c4c4" filter="url(#cb5)"/>
<ellipse cx="397" cy="1390" rx="6" ry="8" fill="#c8c8c8" filter="url(#cb5)"/>
<ellipse cx="481" cy="1328" rx="5" ry="14" fill="#cdcdcd" filter="url(#cb3)"/>
<ellipse cx="462" cy="1301" rx="6" ry="6" fill="#dcdcdc" filter="url(#cb5)"/>
<ellipse cx="300" cy="1320" rx="10" ry="25" fill="#dcdcdc" filter="url(#cb8)"/>
<ellipse cx="352" cy="1300" rx="8" ry="8" fill="#e0e0e0" filter="url(#cb5)"/>
<ellipse cx="255" cy="1370" rx="10" ry="10" fill="#e2e2e2" filter="url(#cb5)"/>
<ellipse cx="398.5" cy="1298.3" rx="7" ry="6.5" fill="#8c8c8c" filter="url(#cb3)"/>
<ellipse cx="500.4" cy="1327" rx="5" ry="9" fill="#7c7c7c" filter="url(#cb3)"/>
<ellipse cx="396" cy="1364" rx="10" ry="8" fill="#6a6a6a" filter="url(#cb3)"/>
<polygon points="392.8,1291.3 398.7,1290.2 403.4,1293.7 407.0,1297.3 406.5,1302.0 402.2,1305.6 397.5,1305.6 392.8,1303.2 390.4,1298.4 390.9,1293.7" fill="none" stroke="#3a9c80" stroke-width="1.1"/>
<polygon points="499.4,1316.2 504.2,1319.8 506.6,1326.9 504.2,1334.0 500.6,1337.6 495.9,1334.0 494.2,1326.9 495.9,1319.8" fill="none" stroke="#3a9c80" stroke-width="1.1"/>
<polygon points="396.3,1353.0 402.2,1355.3 405.8,1360.1 407.0,1367.2 402.2,1372.0 397.5,1370.8 392.8,1372.0 388.0,1373.1 383.8,1369.6 385.6,1362.5 390.4,1356.5" fill="none" stroke="#3a9c80" stroke-width="1.1"/>
<line x1="403.4" y1="1293" x2="430.5" y2="1260.5" stroke="#2f6f60" stroke-width="1.3"/>
<line x1="500.6" y1="1337.6" x2="514.6" y2="1374.8" stroke="#2f6f60" stroke-width="1.3"/>
<line x1="400.4" y1="1373" x2="403.2" y2="1440.6" stroke="#2f6f60" stroke-width="1.3"/>
</g>
<g clip-path="url(#clipD)">
<rect x="593" y="1201" width="381" height="291.5" fill="#030304"/>
<path d="M603.6,1328.7 C604.7,1324.2 606.3,1319.3 609.7,1313.9 C613.2,1308.6 618.7,1302.1 624.5,1296.7 C630.2,1291.4 636.7,1285.9 644.1,1282.0 C651.5,1278.1 660.5,1275.4 668.7,1273.4 C676.9,1271.5 685.0,1270.4 693.2,1270.2 C701.4,1270.0 710.4,1270.8 717.8,1272.2 C725.2,1273.5 732.9,1276.6 737.4,1278.3 C741.9,1280.0 741.9,1282.5 744.8,1282.5 C747.7,1282.5 750.1,1280.0 754.6,1278.3 C759.1,1276.6 764.9,1273.6 771.8,1272.2 C778.8,1270.8 788.2,1269.5 796.4,1269.7 C804.6,1269.9 813.6,1271.4 820.9,1273.4 C828.3,1275.5 834.8,1278.5 840.6,1282.0 C846.3,1285.5 851.2,1289.8 855.3,1294.3 C859.4,1298.8 862.3,1303.7 865.1,1309.0 C868.0,1314.3 870.9,1320.9 872.5,1326.2 C874.1,1331.5 874.6,1335.2 875.0,1341.0 C875.4,1346.7 875.0,1353.6 875.0,1360.6 C875.0,1367.6 875.2,1376.6 875.0,1382.7 C874.8,1388.8 875.4,1393.3 873.7,1397.4 C872.1,1401.5 870.7,1404.0 865.1,1407.3 C859.6,1410.5 850.8,1414.2 840.6,1417.1 C830.3,1419.9 816.0,1422.8 803.7,1424.4 C791.5,1426.1 778.8,1426.4 766.9,1426.9 C755.0,1427.4 744.8,1427.8 732.5,1427.4 C720.2,1427.0 705.9,1425.8 693.2,1424.4 C680.5,1423.1 667.9,1421.6 656.4,1419.5 C644.9,1417.5 632.7,1414.6 624.5,1412.2 C616.3,1409.7 610.8,1408.1 607.3,1404.8 C603.8,1401.5 604.4,1399.1 603.6,1392.5 C602.8,1386.0 602.4,1374.1 602.4,1365.5 C602.3,1356.9 602.9,1347.1 603.1,1341.0 C603.3,1334.8 602.5,1333.2 603.6,1328.7 Z" fill="#34343e" stroke="#60606a" stroke-width="1"/>
<path d="M634.3,1316.4 C640.0,1309.6 646.6,1302.5 656.4,1298.0 C666.2,1293.5 680.5,1290.4 693.2,1289.4 C705.9,1288.4 723.9,1291.0 732.5,1291.8 C741.1,1292.7 740.7,1294.3 744.8,1294.3 C748.9,1294.3 748.5,1292.7 757.1,1291.8 C765.7,1291.0 784.9,1288.4 796.4,1289.4 C807.8,1290.4 818.1,1293.9 825.8,1298.0 C833.6,1302.1 838.5,1307.6 843.0,1313.9 C847.5,1320.3 850.8,1327.4 852.9,1336.0 C854.9,1344.6 855.7,1356.1 855.3,1365.5 C854.9,1374.9 854.5,1385.2 850.4,1392.5 C846.3,1399.9 840.6,1406.0 830.8,1409.7 C820.9,1413.4 806.2,1414.2 791.5,1414.6 C776.7,1415.0 758.7,1412.6 742.3,1412.2 C726.0,1411.8 708.4,1412.8 693.2,1412.2 C678.1,1411.6 662.5,1411.4 651.5,1408.5 C640.4,1405.6 632.2,1401.7 626.9,1395.0 C621.6,1388.2 620.4,1377.4 619.6,1368.0 C618.7,1358.6 619.6,1347.1 622.0,1338.5 C624.5,1329.9 628.6,1323.1 634.3,1316.4 Z" fill="#3e3e50" filter="url(#eb2)"/>
<path d="M634.3,1316.4 C640.0,1309.6 646.6,1302.5 656.4,1298.0 C666.2,1293.5 680.5,1290.4 693.2,1289.4 C705.9,1288.4 723.9,1291.0 732.5,1291.8 C741.1,1292.7 740.7,1294.3 744.8,1294.3 C748.9,1294.3 748.5,1292.7 757.1,1291.8 C765.7,1291.0 784.9,1288.4 796.4,1289.4 C807.8,1290.4 818.1,1293.9 825.8,1298.0 C833.6,1302.1 838.5,1307.6 843.0,1313.9 C847.5,1320.3 850.8,1327.4 852.9,1336.0 C854.9,1344.6 855.7,1356.1 855.3,1365.5 C854.9,1374.9 854.5,1385.2 850.4,1392.5 C846.3,1399.9 840.6,1406.0 830.8,1409.7 C820.9,1413.4 806.2,1414.2 791.5,1414.6 C776.7,1415.0 758.7,1412.6 742.3,1412.2 C726.0,1411.8 708.4,1412.8 693.2,1412.2 C678.1,1411.6 662.5,1411.4 651.5,1408.5 C640.4,1405.6 632.2,1401.7 626.9,1395.0 C621.6,1388.2 620.4,1377.4 619.6,1368.0 C618.7,1358.6 619.6,1347.1 622.0,1338.5 C624.5,1329.9 628.6,1323.1 634.3,1316.4 Z" fill="none" stroke="#56566a" stroke-width="3" filter="url(#eb)"/>
<path d="M653.9,1301.7 C658.4,1298.6 668.3,1296.3 676.0,1295.5 C683.8,1294.7 692.8,1296.1 700.6,1296.7 C708.4,1297.4 717.4,1298.0 722.7,1299.2 C728.0,1300.4 730.5,1301.3 732.5,1304.1 C734.6,1307.0 735.8,1312.3 735.0,1316.4 C734.2,1320.5 730.1,1324.6 727.6,1328.7 C725.2,1332.8 721.9,1336.0 720.2,1341.0 C718.6,1345.9 719.0,1352.8 717.8,1358.1 C716.6,1363.5 714.1,1368.4 712.9,1372.9 C711.7,1377.4 712.1,1381.5 710.4,1385.2 C708.8,1388.8 706.7,1393.1 703.1,1395.0 C699.4,1396.8 694.1,1397.0 688.3,1396.2 C682.6,1395.4 674.0,1393.1 668.7,1390.1 C663.4,1387.0 659.7,1383.1 656.4,1377.8 C653.1,1372.5 650.7,1365.5 649.0,1358.1 C647.4,1350.8 646.6,1341.0 646.6,1333.6 C646.6,1326.2 647.8,1319.3 649.0,1313.9 C650.3,1308.6 649.4,1304.7 653.9,1301.7 Z" fill="#020216"/>
<path d="M752.2,1299.2 C756.3,1297.2 764.4,1296.7 771.8,1296.7 C779.2,1296.7 789.0,1298.0 796.4,1299.2 C803.7,1300.4 811.5,1300.8 816.0,1304.1 C820.5,1307.4 821.8,1312.7 823.4,1318.9 C825.0,1325.0 825.8,1333.2 825.8,1341.0 C825.8,1348.7 825.0,1358.6 823.4,1365.5 C821.8,1372.5 819.3,1378.2 816.0,1382.7 C812.7,1387.2 809.5,1390.1 803.7,1392.5 C798.0,1395.0 788.6,1397.4 781.6,1397.4 C774.7,1397.4 766.9,1395.0 762.0,1392.5 C757.1,1390.1 753.0,1386.4 752.2,1382.7 C751.4,1379.0 754.6,1374.1 757.1,1370.4 C759.5,1366.7 764.4,1364.3 766.9,1360.6 C769.4,1356.9 771.8,1352.8 771.8,1348.3 C771.8,1343.8 770.2,1338.5 766.9,1333.6 C763.6,1328.7 755.4,1322.9 752.2,1318.9 C748.9,1314.8 747.3,1312.3 747.3,1309.0 C747.3,1305.8 748.1,1301.3 752.2,1299.2 Z" fill="#020216"/>
<path d="M653.9,1301.7 C658.4,1298.6 668.3,1296.3 676.0,1295.5 C683.8,1294.7 692.8,1296.1 700.6,1296.7 C708.4,1297.4 717.4,1298.0 722.7,1299.2 C728.0,1300.4 730.5,1301.3 732.5,1304.1 C734.6,1307.0 735.8,1312.3 735.0,1316.4 C734.2,1320.5 730.1,1324.6 727.6,1328.7 C725.2,1332.8 721.9,1336.0 720.2,1341.0 C718.6,1345.9 719.0,1352.8 717.8,1358.1 C716.6,1363.5 714.1,1368.4 712.9,1372.9 C711.7,1377.4 712.1,1381.5 710.4,1385.2 C708.8,1388.8 706.7,1393.1 703.1,1395.0 C699.4,1396.8 694.1,1397.0 688.3,1396.2 C682.6,1395.4 674.0,1393.1 668.7,1390.1 C663.4,1387.0 659.7,1383.1 656.4,1377.8 C653.1,1372.5 650.7,1365.5 649.0,1358.1 C647.4,1350.8 646.6,1341.0 646.6,1333.6 C646.6,1326.2 647.8,1319.3 649.0,1313.9 C650.3,1308.6 649.4,1304.7 653.9,1301.7 Z" fill="none" stroke="#2222c8" stroke-width="6" opacity="0.33" filter="url(#cb5)"/>
<path d="M752.2,1299.2 C756.3,1297.2 764.4,1296.7 771.8,1296.7 C779.2,1296.7 789.0,1298.0 796.4,1299.2 C803.7,1300.4 811.5,1300.8 816.0,1304.1 C820.5,1307.4 821.8,1312.7 823.4,1318.9 C825.0,1325.0 825.8,1333.2 825.8,1341.0 C825.8,1348.7 825.0,1358.6 823.4,1365.5 C821.8,1372.5 819.3,1378.2 816.0,1382.7 C812.7,1387.2 809.5,1390.1 803.7,1392.5 C798.0,1395.0 788.6,1397.4 781.6,1397.4 C774.7,1397.4 766.9,1395.0 762.0,1392.5 C757.1,1390.1 753.0,1386.4 752.2,1382.7 C751.4,1379.0 754.6,1374.1 757.1,1370.4 C759.5,1366.7 764.4,1364.3 766.9,1360.6 C769.4,1356.9 771.8,1352.8 771.8,1348.3 C771.8,1343.8 770.2,1338.5 766.9,1333.6 C763.6,1328.7 755.4,1322.9 752.2,1318.9 C748.9,1314.8 747.3,1312.3 747.3,1309.0 C747.3,1305.8 748.1,1301.3 752.2,1299.2 Z" fill="none" stroke="#2222c8" stroke-width="6" opacity="0.33" filter="url(#cb5)"/>
<path d="M732.5,1304.1 C734.8,1301.3 739.5,1300.4 742.3,1301.7 C745.2,1302.9 748.1,1307.8 749.7,1311.5 C751.4,1315.2 749.3,1320.1 752.2,1323.8 C755.0,1327.4 763.6,1329.5 766.9,1333.6 C770.2,1337.7 771.8,1343.4 771.8,1348.3 C771.8,1353.2 768.5,1358.1 766.9,1363.1 C765.3,1368.0 765.3,1374.5 762.0,1377.8 C758.7,1381.1 752.2,1382.7 747.3,1382.7 C742.3,1382.7 736.6,1381.1 732.5,1377.8 C728.4,1374.5 724.7,1368.0 722.7,1363.1 C720.7,1358.1 720.2,1353.2 720.2,1348.3 C720.2,1343.4 721.3,1338.5 722.7,1333.6 C724.1,1328.7 727.2,1323.8 728.8,1318.9 C730.5,1313.9 730.3,1307.0 732.5,1304.1 Z" fill="#4c4c60" filter="url(#eb)"/>
<ellipse cx="728.8" cy="1348.3" rx="6.1" ry="4.4" fill="#0a0a3a"/>
<ellipse cx="742.3" cy="1349.5" rx="6.1" ry="4.4" fill="#0a0a3a"/>
<ellipse cx="739.9" cy="1294.3" rx="9" ry="4.5" fill="#7070ff" filter="url(#eb)"/>
<ellipse cx="739.9" cy="1300.3" rx="8" ry="12" fill="#3030e0" opacity="0.6" filter="url(#cb3)"/>
<ellipse cx="735.0" cy="1375.3" rx="16" ry="13" fill="#4848e8" opacity="0.85" filter="url(#cb3)"/>
<ellipse cx="736.2" cy="1370.4" rx="7" ry="6" fill="#ff4fa0" opacity="0.9" filter="url(#eb2)"/>
<path d="M712.9,1392.5 C714.1,1389.3 719.4,1383.9 722.7,1382.7 C726.0,1381.5 729.3,1385.2 732.5,1385.2 C735.8,1385.2 738.7,1381.9 742.3,1382.7 C746.0,1383.5 752.2,1387.2 754.6,1390.1 C757.1,1392.9 759.1,1398.7 757.1,1399.9 C755.0,1401.1 746.0,1398.7 742.3,1397.4 C738.7,1396.2 737.4,1392.5 735.0,1392.5 C732.5,1392.5 730.9,1395.8 727.6,1397.4 C724.3,1399.1 717.8,1403.2 715.3,1402.3 C712.9,1401.5 711.7,1395.8 712.9,1392.5 Z" fill="#6a6ae0" stroke="#d0d0ff" stroke-width="1.4" filter="url(#eb)"/>
<circle cx="735.0" cy="1381.5" r="3.5" fill="#2020a0"/>
<ellipse cx="733.8" cy="1404.8" rx="2" ry="4" fill="#c8c8ff"/>
<ellipse cx="679.7" cy="1299.2" rx="5.4" ry="2.2" transform="rotate(-15 679.7 1299.2)" fill="none" stroke="#d8d8f0" stroke-width="1.6"/>
<ellipse cx="795.1" cy="1299.2" rx="5.4" ry="2.2" transform="rotate(15 795.1 1299.2)" fill="none" stroke="#d8d8f0" stroke-width="1.6"/>
<ellipse cx="653.9" cy="1312.0" rx="2.5" ry="3.9" transform="rotate(30 653.9 1312.0)" fill="none" stroke="#d8d8f0" stroke-width="1.6"/>
<ellipse cx="818.5" cy="1313.2" rx="2.5" ry="3.9" transform="rotate(-30 818.5 1313.2)" fill="none" stroke="#d8d8f0" stroke-width="1.6"/>
<ellipse cx="647.8" cy="1338.5" rx="2.0" ry="5.4" transform="rotate(0 647.8 1338.5)" fill="none" stroke="#d8d8f0" stroke-width="1.6"/>
<ellipse cx="823.9" cy="1339.7" rx="2.0" ry="5.4" transform="rotate(0 823.9 1339.7)" fill="none" stroke="#d8d8f0" stroke-width="1.6"/>
<ellipse cx="631.8" cy="1370.4" rx="3.9" ry="2.5" transform="rotate(30 631.8 1370.4)" fill="none" stroke="#d8d8f0" stroke-width="1.6"/>
<ellipse cx="836.9" cy="1375.3" rx="3.9" ry="2.5" transform="rotate(-30 836.9 1375.3)" fill="none" stroke="#d8d8f0" stroke-width="1.6"/>
<path d="M636.7,1372.9 C639.2,1375.3 646.2,1382.9 651.5,1387.6 C656.8,1392.3 665.8,1398.9 668.7,1401.1" fill="none" stroke="#c0c0e8" stroke-width="1.6"/>
<path d="M834.4,1377.8 C832.6,1379.8 828.1,1386.0 823.4,1390.1 C818.7,1394.2 809.1,1400.3 806.2,1402.3" fill="none" stroke="#c0c0e8" stroke-width="1.6"/>
<path d="M656.4,1380.2 C659.3,1383.1 668.3,1393.8 673.6,1397.4 C678.9,1401.1 685.9,1401.5 688.3,1402.3" fill="none" stroke="#c0c0e8" stroke-width="1.6"/>
<ellipse cx="843.5" cy="1331.6" rx="8" ry="11" fill="#5050e0" opacity="0.85" filter="url(#eb2)"/>
<ellipse cx="843.5" cy="1331.6" rx="3" ry="3.5" fill="#ff3c8c" filter="url(#eb)"/>
<circle cx="676.0" cy="1336.0" r="1" fill="#8080a0"/>
<circle cx="698.1" cy="1328.7" r="1" fill="#8080a0"/>
<circle cx="710.4" cy="1336.0" r="1" fill="#8080a0"/>
<circle cx="776.7" cy="1321.3" r="1" fill="#8080a0"/>
<circle cx="791.5" cy="1336.0" r="1" fill="#8080a0"/>
<circle cx="705.5" cy="1341.0" r="1" fill="#8080a0"/>
<circle cx="688.3" cy="1343.4" r="1" fill="#8080a0"/>
<path d="M603.6,1414.6 C614.4,1416.3 645.5,1421.9 668.7,1424.4 C691.8,1427.0 717.8,1429.9 742.3,1429.9 C766.9,1429.9 793.9,1427.2 816.0,1424.4 C838.1,1421.7 865.1,1415.2 875.0,1413.4" fill="none" stroke="#8a8a8a" stroke-width="1.1"/>
<path d="M603.6,1424.4 C614.4,1426.1 645.5,1431.7 668.7,1434.3 C691.8,1436.8 717.8,1439.7 742.3,1439.7 C766.9,1439.7 793.9,1436.8 816.0,1434.3 C838.1,1431.7 865.1,1426.1 875.0,1424.4" fill="none" stroke="#8a8a8a" stroke-width="1.1"/>
<path d="M603.6,1431.8 C614.4,1433.5 645.5,1439.1 668.7,1441.6 C691.8,1444.2 717.8,1447.0 742.3,1447.0 C766.9,1447.0 793.9,1444.0 816.0,1441.6 C838.1,1439.3 865.1,1434.5 875.0,1433.0" fill="none" stroke="#8a8a8a" stroke-width="1.1"/>
<line x1="762.8" y1="1247.6" x2="747.5" y2="1277.1" stroke="#fff" stroke-width="3"/><polygon points="744.2,1283.5 743.5,1269.6 747.5,1277.1 755.9,1276.1" fill="#fff"/>
<line x1="885.0" y1="1296.5" x2="858.0" y2="1320.7" stroke="#fff" stroke-width="3"/><polygon points="852.6,1325.5 856.9,1312.3 858.0,1320.7 866.2,1322.7" fill="#fff"/>
<line x1="731.8" y1="1454.2" x2="731.8" y2="1419.7" stroke="#fff" stroke-width="3"/><polygon points="731.8,1412.5 738.8,1424.5 731.8,1419.7 724.8,1424.5" fill="#fff"/>
</g>
<g clip-path="url(#clipE)">
<rect x="213" y="1493" width="762" height="269" fill="#000"/>
<polygon points="215.0,1493.4 878.3,1493.4 887.7,1521.3 897.1,1552.7 903.4,1584.0 906.5,1630.0 916.7,1666.0 920.6,1705.0 920.6,1736.0 922.2,1762.0 215.0,1762.0" fill="#d3c7c6"/>
<ellipse cx="268" cy="1561" rx="5" ry="12" fill="#6a1818" filter="url(#eb2)"/>
<ellipse cx="520" cy="1530" rx="45" ry="14" transform="rotate(30 520 1530)" fill="#d86a6a" opacity="0.55" filter="url(#cb5)"/>
<ellipse cx="540" cy="1720" rx="35" ry="14" transform="rotate(35 540 1720)" fill="#d86a6a" opacity="0.6" filter="url(#cb5)"/>
<ellipse cx="650" cy="1525" rx="40" ry="25" transform="rotate(0 650 1525)" fill="#d86a6a" opacity="0.35" filter="url(#cb5)"/>
<ellipse cx="700" cy="1700" rx="25" ry="50" transform="rotate(0 700 1700)" fill="#d86a6a" opacity="0.25" filter="url(#cb5)"/>
<ellipse cx="600" cy="1560" rx="20" ry="10" transform="rotate(20 600 1560)" fill="#d86a6a" opacity="0.3" filter="url(#cb5)"/>
<ellipse cx="830" cy="1560" rx="20" ry="40" transform="rotate(25 830 1560)" fill="#d86a6a" opacity="0.5" filter="url(#cb5)"/>
<ellipse cx="850" cy="1700" rx="18" ry="30" transform="rotate(30 850 1700)" fill="#d86a6a" opacity="0.5" filter="url(#cb5)"/>
<ellipse cx="780" cy="1520" rx="20" ry="25" transform="rotate(25 780 1520)" fill="#d86a6a" opacity="0.45" filter="url(#cb5)"/>
<ellipse cx="470" cy="1730" rx="20" ry="10" transform="rotate(0 470 1730)" fill="#d86a6a" opacity="0.3" filter="url(#cb5)"/>
<ellipse cx="560" cy="1505" rx="30" ry="8" transform="rotate(20 560 1505)" fill="#d86a6a" opacity="0.4" filter="url(#cb5)"/>
<path d="M700.0,1522.0 C710.0,1522.7 741.2,1524.2 760.0,1526.0 C778.8,1527.8 798.0,1529.0 813.0,1533.0 C828.0,1537.0 843.8,1547.2 850.0,1550.0" fill="none" stroke="#7a5050" stroke-width="27" filter="url(#eb)"/>
<path d="M700.0,1522.0 C710.0,1522.7 741.2,1524.2 760.0,1526.0 C778.8,1527.8 798.0,1529.0 813.0,1533.0 C828.0,1537.0 843.8,1547.2 850.0,1550.0" fill="none" stroke="#d4cbcb" stroke-width="24"/>
<path d="M700.0,1522.0 C710.0,1522.7 741.2,1524.2 760.0,1526.0 C778.8,1527.8 798.0,1529.0 813.0,1533.0 C828.0,1537.0 843.8,1547.2 850.0,1550.0" fill="none" stroke="#f4f0f0" stroke-width="11" filter="url(#eb2)"/>
<path d="M700.0,1594.0 C710.0,1594.3 741.2,1594.7 760.0,1596.0 C778.8,1597.3 798.3,1597.7 813.0,1602.0 C827.7,1606.3 842.2,1618.7 848.0,1622.0" fill="none" stroke="#7a5050" stroke-width="29" filter="url(#eb)"/>
<path d="M700.0,1594.0 C710.0,1594.3 741.2,1594.7 760.0,1596.0 C778.8,1597.3 798.3,1597.7 813.0,1602.0 C827.7,1606.3 842.2,1618.7 848.0,1622.0" fill="none" stroke="#d4cbcb" stroke-width="26"/>
<path d="M700.0,1594.0 C710.0,1594.3 741.2,1594.7 760.0,1596.0 C778.8,1597.3 798.3,1597.7 813.0,1602.0 C827.7,1606.3 842.2,1618.7 848.0,1622.0" fill="none" stroke="#f4f0f0" stroke-width="12" filter="url(#eb2)"/>
<path d="M700.0,1674.0 C710.8,1675.3 746.2,1677.5 765.0,1682.0 C783.8,1686.5 798.8,1693.8 813.0,1701.0 C827.2,1708.2 843.8,1721.0 850.0,1725.0" fill="none" stroke="#7a5050" stroke-width="37" filter="url(#eb)"/>
<path d="M700.0,1674.0 C710.8,1675.3 746.2,1677.5 765.0,1682.0 C783.8,1686.5 798.8,1693.8 813.0,1701.0 C827.2,1708.2 843.8,1721.0 850.0,1725.0" fill="none" stroke="#d4cbcb" stroke-width="34"/>
<path d="M700.0,1674.0 C710.8,1675.3 746.2,1677.5 765.0,1682.0 C783.8,1686.5 798.8,1693.8 813.0,1701.0 C827.2,1708.2 843.8,1721.0 850.0,1725.0" fill="none" stroke="#f4f0f0" stroke-width="15" filter="url(#eb2)"/>
<path d="M700.0,1748.0 C710.0,1748.5 743.3,1748.7 760.0,1751.0 C776.7,1753.3 793.3,1760.2 800.0,1762.0" fill="none" stroke="#7a5050" stroke-width="27" filter="url(#eb)"/>
<path d="M700.0,1748.0 C710.0,1748.5 743.3,1748.7 760.0,1751.0 C776.7,1753.3 793.3,1760.2 800.0,1762.0" fill="none" stroke="#d4cbcb" stroke-width="24"/>
<path d="M700.0,1748.0 C710.0,1748.5 743.3,1748.7 760.0,1751.0 C776.7,1753.3 793.3,1760.2 800.0,1762.0" fill="none" stroke="#f4f0f0" stroke-width="11" filter="url(#eb2)"/>
<path d="M318.0,1515.0 C323.3,1517.8 338.0,1527.0 350.0,1532.0 C362.0,1537.0 376.7,1541.3 390.0,1545.0 C403.3,1548.7 416.7,1551.8 430.0,1554.0 C443.3,1556.2 455.0,1558.0 470.0,1558.0 C485.0,1558.0 502.5,1556.2 520.0,1554.0 C537.5,1551.8 558.3,1547.3 575.0,1545.0 C591.7,1542.7 604.5,1541.0 620.0,1540.0 C635.5,1539.0 660.0,1539.2 668.0,1539.0" fill="none" stroke="#7a5050" stroke-width="19" filter="url(#eb)"/>
<path d="M318.0,1515.0 C323.3,1517.8 338.0,1527.0 350.0,1532.0 C362.0,1537.0 376.7,1541.3 390.0,1545.0 C403.3,1548.7 416.7,1551.8 430.0,1554.0 C443.3,1556.2 455.0,1558.0 470.0,1558.0 C485.0,1558.0 502.5,1556.2 520.0,1554.0 C537.5,1551.8 558.3,1547.3 575.0,1545.0 C591.7,1542.7 604.5,1541.0 620.0,1540.0 C635.5,1539.0 660.0,1539.2 668.0,1539.0" fill="none" stroke="#d6cccc" stroke-width="16"/>
<path d="M318.0,1515.0 C323.3,1517.8 338.0,1527.0 350.0,1532.0 C362.0,1537.0 376.7,1541.3 390.0,1545.0 C403.3,1548.7 416.7,1551.8 430.0,1554.0 C443.3,1556.2 455.0,1558.0 470.0,1558.0 C485.0,1558.0 502.5,1556.2 520.0,1554.0 C537.5,1551.8 558.3,1547.3 575.0,1545.0 C591.7,1542.7 604.5,1541.0 620.0,1540.0 C635.5,1539.0 660.0,1539.2 668.0,1539.0" fill="none" stroke="#f4f0f0" stroke-width="7" filter="url(#eb2)"/>
<path d="M300.0,1578.0 C306.7,1580.7 325.0,1589.7 340.0,1594.0 C355.0,1598.3 371.7,1601.7 390.0,1604.0 C408.3,1606.3 428.3,1607.5 450.0,1608.0 C471.7,1608.5 499.2,1607.5 520.0,1607.0 C540.8,1606.5 550.3,1605.5 575.0,1605.0 C599.7,1604.5 652.5,1604.2 668.0,1604.0" fill="none" stroke="#7a5050" stroke-width="23" filter="url(#eb)"/>
<path d="M300.0,1578.0 C306.7,1580.7 325.0,1589.7 340.0,1594.0 C355.0,1598.3 371.7,1601.7 390.0,1604.0 C408.3,1606.3 428.3,1607.5 450.0,1608.0 C471.7,1608.5 499.2,1607.5 520.0,1607.0 C540.8,1606.5 550.3,1605.5 575.0,1605.0 C599.7,1604.5 652.5,1604.2 668.0,1604.0" fill="none" stroke="#d6cccc" stroke-width="20"/>
<path d="M300.0,1578.0 C306.7,1580.7 325.0,1589.7 340.0,1594.0 C355.0,1598.3 371.7,1601.7 390.0,1604.0 C408.3,1606.3 428.3,1607.5 450.0,1608.0 C471.7,1608.5 499.2,1607.5 520.0,1607.0 C540.8,1606.5 550.3,1605.5 575.0,1605.0 C599.7,1604.5 652.5,1604.2 668.0,1604.0" fill="none" stroke="#f4f0f0" stroke-width="9" filter="url(#eb2)"/>
<path d="M292.0,1650.0 C298.3,1652.5 315.3,1661.3 330.0,1665.0 C344.7,1668.7 363.3,1670.5 380.0,1672.0 C396.7,1673.5 410.0,1674.2 430.0,1674.0 C450.0,1673.8 475.8,1672.0 500.0,1671.0 C524.2,1670.0 547.0,1668.7 575.0,1668.0 C603.0,1667.3 652.5,1667.2 668.0,1667.0" fill="none" stroke="#7a5050" stroke-width="27" filter="url(#eb)"/>
<path d="M292.0,1650.0 C298.3,1652.5 315.3,1661.3 330.0,1665.0 C344.7,1668.7 363.3,1670.5 380.0,1672.0 C396.7,1673.5 410.0,1674.2 430.0,1674.0 C450.0,1673.8 475.8,1672.0 500.0,1671.0 C524.2,1670.0 547.0,1668.7 575.0,1668.0 C603.0,1667.3 652.5,1667.2 668.0,1667.0" fill="none" stroke="#d6cccc" stroke-width="24"/>
<path d="M292.0,1650.0 C298.3,1652.5 315.3,1661.3 330.0,1665.0 C344.7,1668.7 363.3,1670.5 380.0,1672.0 C396.7,1673.5 410.0,1674.2 430.0,1674.0 C450.0,1673.8 475.8,1672.0 500.0,1671.0 C524.2,1670.0 547.0,1668.7 575.0,1668.0 C603.0,1667.3 652.5,1667.2 668.0,1667.0" fill="none" stroke="#f4f0f0" stroke-width="11" filter="url(#eb2)"/>
<path d="M280.0,1728.0 C288.3,1728.7 310.0,1730.8 330.0,1732.0 C350.0,1733.2 375.0,1734.5 400.0,1735.0 C425.0,1735.5 450.8,1735.7 480.0,1735.0 C509.2,1734.3 543.7,1731.8 575.0,1731.0 C606.3,1730.2 652.5,1730.2 668.0,1730.0" fill="none" stroke="#7a5050" stroke-width="29" filter="url(#eb)"/>
<path d="M280.0,1728.0 C288.3,1728.7 310.0,1730.8 330.0,1732.0 C350.0,1733.2 375.0,1734.5 400.0,1735.0 C425.0,1735.5 450.8,1735.7 480.0,1735.0 C509.2,1734.3 543.7,1731.8 575.0,1731.0 C606.3,1730.2 652.5,1730.2 668.0,1730.0" fill="none" stroke="#d6cccc" stroke-width="26"/>
<path d="M280.0,1728.0 C288.3,1728.7 310.0,1730.8 330.0,1732.0 C350.0,1733.2 375.0,1734.5 400.0,1735.0 C425.0,1735.5 450.8,1735.7 480.0,1735.0 C509.2,1734.3 543.7,1731.8 575.0,1731.0 C606.3,1730.2 652.5,1730.2 668.0,1730.0" fill="none" stroke="#f4f0f0" stroke-width="12" filter="url(#eb2)"/>
<path d="M657,1565 L722,1565 L720,1640 L731,1700 L730,1762 L663,1762 L660,1700 L665,1640 Z" fill="#e8cac8" stroke="#7a4646" stroke-width="1.5" filter="url(#eb)"/>
<path d="M612,1493 L730,1493 L722,1555 L705,1562 L660,1562 L640,1548 L620,1520 Z" fill="#e6c4c2" stroke="#7a4646" stroke-width="1.5" filter="url(#eb)"/>
<circle cx="677.2" cy="1641.5" r="1.8" fill="#c86a6a" opacity="0.46" filter="url(#eb)"/>
<circle cx="702.0" cy="1517.0" r="1.2" fill="#c86a6a" opacity="0.54" filter="url(#eb)"/>
<circle cx="678.6" cy="1560.9" r="2.8" fill="#c86a6a" opacity="0.41" filter="url(#eb)"/>
<circle cx="715.5" cy="1623.9" r="2.2" fill="#c86a6a" opacity="0.30" filter="url(#eb)"/>
<circle cx="702.6" cy="1725.7" r="2.0" fill="#c86a6a" opacity="0.51" filter="url(#eb)"/>
<circle cx="705.0" cy="1516.6" r="2.4" fill="#c86a6a" opacity="0.46" filter="url(#eb)"/>
<circle cx="681.3" cy="1508.1" r="2.6" fill="#c86a6a" opacity="0.42" filter="url(#eb)"/>
<circle cx="708.0" cy="1728.5" r="2.3" fill="#c86a6a" opacity="0.57" filter="url(#eb)"/>
<circle cx="687.3" cy="1708.2" r="1.9" fill="#c86a6a" opacity="0.58" filter="url(#eb)"/>
<circle cx="718.2" cy="1525.3" r="1.4" fill="#c86a6a" opacity="0.33" filter="url(#eb)"/>
<circle cx="723.8" cy="1613.4" r="2.2" fill="#c86a6a" opacity="0.36" filter="url(#eb)"/>
<circle cx="694.5" cy="1600.3" r="1.8" fill="#c86a6a" opacity="0.45" filter="url(#eb)"/>
<circle cx="699.4" cy="1735.1" r="2.3" fill="#c86a6a" opacity="0.58" filter="url(#eb)"/>
<circle cx="716.8" cy="1757.7" r="2.3" fill="#c86a6a" opacity="0.31" filter="url(#eb)"/>
<circle cx="717.1" cy="1750.8" r="2.6" fill="#c86a6a" opacity="0.45" filter="url(#eb)"/>
<circle cx="707.7" cy="1554.9" r="2.5" fill="#c86a6a" opacity="0.45" filter="url(#eb)"/>
<circle cx="680.2" cy="1516.5" r="2.6" fill="#c86a6a" opacity="0.60" filter="url(#eb)"/>
<circle cx="667.7" cy="1708.2" r="1.9" fill="#c86a6a" opacity="0.30" filter="url(#eb)"/>
<circle cx="680.8" cy="1699.9" r="2.6" fill="#c86a6a" opacity="0.27" filter="url(#eb)"/>
<circle cx="701.3" cy="1511.7" r="2.3" fill="#c86a6a" opacity="0.37" filter="url(#eb)"/>
<circle cx="718.4" cy="1755.0" r="2.0" fill="#c86a6a" opacity="0.60" filter="url(#eb)"/>
<circle cx="681.8" cy="1520.0" r="2.2" fill="#c86a6a" opacity="0.26" filter="url(#eb)"/>
<circle cx="674.6" cy="1606.1" r="2.2" fill="#c86a6a" opacity="0.30" filter="url(#eb)"/>
<circle cx="664.7" cy="1725.6" r="1.7" fill="#c86a6a" opacity="0.59" filter="url(#eb)"/>
<circle cx="719.4" cy="1598.2" r="1.9" fill="#c86a6a" opacity="0.43" filter="url(#eb)"/>
<circle cx="703.2" cy="1654.9" r="2.1" fill="#c86a6a" opacity="0.47" filter="url(#eb)"/>
<circle cx="722.2" cy="1631.8" r="1.9" fill="#c86a6a" opacity="0.50" filter="url(#eb)"/>
<circle cx="677.2" cy="1578.3" r="2.8" fill="#c86a6a" opacity="0.43" filter="url(#eb)"/>
<circle cx="697.1" cy="1503.0" r="1.9" fill="#c86a6a" opacity="0.45" filter="url(#eb)"/>
<circle cx="663.3" cy="1660.1" r="2.2" fill="#c86a6a" opacity="0.27" filter="url(#eb)"/>
<circle cx="702.1" cy="1621.2" r="2.3" fill="#c86a6a" opacity="0.37" filter="url(#eb)"/>
<circle cx="707.2" cy="1691.9" r="1.2" fill="#c86a6a" opacity="0.27" filter="url(#eb)"/>
<circle cx="705.3" cy="1750.5" r="1.6" fill="#c86a6a" opacity="0.41" filter="url(#eb)"/>
<circle cx="699.9" cy="1583.2" r="1.8" fill="#c86a6a" opacity="0.36" filter="url(#eb)"/>
<circle cx="685.6" cy="1654.9" r="1.7" fill="#c86a6a" opacity="0.38" filter="url(#eb)"/>
<circle cx="711.4" cy="1507.0" r="2.1" fill="#c86a6a" opacity="0.51" filter="url(#eb)"/>
<circle cx="681.8" cy="1557.9" r="2.5" fill="#c86a6a" opacity="0.33" filter="url(#eb)"/>
<circle cx="674.0" cy="1613.2" r="2.3" fill="#c86a6a" opacity="0.29" filter="url(#eb)"/>
<circle cx="682.6" cy="1586.8" r="2.5" fill="#c86a6a" opacity="0.40" filter="url(#eb)"/>
<circle cx="716.8" cy="1544.0" r="1.7" fill="#c86a6a" opacity="0.48" filter="url(#eb)"/>
<circle cx="718.6" cy="1617.3" r="1.6" fill="#c86a6a" opacity="0.29" filter="url(#eb)"/>
<circle cx="695.9" cy="1549.6" r="2.5" fill="#c86a6a" opacity="0.54" filter="url(#eb)"/>
<circle cx="673.7" cy="1572.4" r="2.5" fill="#c86a6a" opacity="0.47" filter="url(#eb)"/>
<circle cx="713.6" cy="1589.8" r="1.4" fill="#c86a6a" opacity="0.35" filter="url(#eb)"/>
<circle cx="712.8" cy="1570.5" r="1.8" fill="#c86a6a" opacity="0.40" filter="url(#eb)"/>
<circle cx="688.9" cy="1606.5" r="2.7" fill="#c86a6a" opacity="0.30" filter="url(#eb)"/>
<circle cx="662.3" cy="1745.2" r="2.6" fill="#c86a6a" opacity="0.60" filter="url(#eb)"/>
<circle cx="689.8" cy="1747.0" r="2.7" fill="#c86a6a" opacity="0.33" filter="url(#eb)"/>
<circle cx="709.7" cy="1717.5" r="2.3" fill="#c86a6a" opacity="0.43" filter="url(#eb)"/>
<circle cx="680.5" cy="1588.7" r="1.6" fill="#c86a6a" opacity="0.27" filter="url(#eb)"/>
<circle cx="699.7" cy="1574.6" r="2.5" fill="#c86a6a" opacity="0.27" filter="url(#eb)"/>
<circle cx="719.8" cy="1680.4" r="2.7" fill="#c86a6a" opacity="0.56" filter="url(#eb)"/>
<circle cx="719.6" cy="1650.0" r="1.2" fill="#c86a6a" opacity="0.51" filter="url(#eb)"/>
<circle cx="673.0" cy="1578.0" r="2.3" fill="#c86a6a" opacity="0.43" filter="url(#eb)"/>
<circle cx="688.5" cy="1744.2" r="2.2" fill="#c86a6a" opacity="0.37" filter="url(#eb)"/>
<circle cx="678.2" cy="1724.0" r="2.0" fill="#c86a6a" opacity="0.52" filter="url(#eb)"/>
<circle cx="684.5" cy="1551.3" r="2.1" fill="#c86a6a" opacity="0.54" filter="url(#eb)"/>
<circle cx="673.0" cy="1705.8" r="2.7" fill="#c86a6a" opacity="0.53" filter="url(#eb)"/>
<circle cx="714.7" cy="1502.0" r="2.2" fill="#c86a6a" opacity="0.55" filter="url(#eb)"/>
<circle cx="665.2" cy="1570.6" r="1.6" fill="#c86a6a" opacity="0.43" filter="url(#eb)"/>
<circle cx="689.1" cy="1623.0" r="2.4" fill="#c86a6a" opacity="0.25" filter="url(#eb)"/>
<circle cx="665.5" cy="1533.0" r="1.4" fill="#c86a6a" opacity="0.27" filter="url(#eb)"/>
<circle cx="724.4" cy="1722.2" r="1.3" fill="#c86a6a" opacity="0.43" filter="url(#eb)"/>
<circle cx="682.2" cy="1581.8" r="1.8" fill="#c86a6a" opacity="0.48" filter="url(#eb)"/>
<circle cx="699.5" cy="1593.8" r="1.5" fill="#c86a6a" opacity="0.37" filter="url(#eb)"/>
<circle cx="669.9" cy="1644.4" r="2.3" fill="#c86a6a" opacity="0.38" filter="url(#eb)"/>
<circle cx="667.1" cy="1546.4" r="1.8" fill="#c86a6a" opacity="0.46" filter="url(#eb)"/>
<circle cx="712.1" cy="1598.9" r="2.5" fill="#c86a6a" opacity="0.47" filter="url(#eb)"/>
<circle cx="689.6" cy="1596.8" r="2.0" fill="#c86a6a" opacity="0.50" filter="url(#eb)"/>
<circle cx="688.9" cy="1680.5" r="1.9" fill="#c86a6a" opacity="0.34" filter="url(#eb)"/>
<circle cx="675.5" cy="1537.3" r="1.6" fill="#c86a6a" opacity="0.38" filter="url(#eb)"/>
<circle cx="663.1" cy="1548.0" r="3.4" fill="#c86a6a" opacity="0.36" filter="url(#eb)"/>
<circle cx="716.5" cy="1542.9" r="2.0" fill="#c86a6a" opacity="0.39" filter="url(#eb)"/>
<circle cx="628.9" cy="1544.2" r="2.8" fill="#c86a6a" opacity="0.52" filter="url(#eb)"/>
<circle cx="704.5" cy="1535.7" r="3.0" fill="#c86a6a" opacity="0.42" filter="url(#eb)"/>
<circle cx="626.7" cy="1531.1" r="1.5" fill="#c86a6a" opacity="0.29" filter="url(#eb)"/>
<circle cx="702.5" cy="1499.6" r="1.7" fill="#c86a6a" opacity="0.28" filter="url(#eb)"/>
<circle cx="714.5" cy="1507.4" r="1.5" fill="#c86a6a" opacity="0.50" filter="url(#eb)"/>
<circle cx="628.7" cy="1545.9" r="2.8" fill="#c86a6a" opacity="0.50" filter="url(#eb)"/>
<circle cx="722.6" cy="1530.6" r="3.1" fill="#c86a6a" opacity="0.26" filter="url(#eb)"/>
<circle cx="701.7" cy="1526.7" r="2.9" fill="#c86a6a" opacity="0.28" filter="url(#eb)"/>
<circle cx="699.6" cy="1551.2" r="1.6" fill="#c86a6a" opacity="0.35" filter="url(#eb)"/>
<circle cx="678.7" cy="1545.0" r="2.0" fill="#c86a6a" opacity="0.30" filter="url(#eb)"/>
<circle cx="643.2" cy="1532.7" r="3.0" fill="#c86a6a" opacity="0.37" filter="url(#eb)"/>
<circle cx="656.5" cy="1520.0" r="2.2" fill="#c86a6a" opacity="0.38" filter="url(#eb)"/>
<circle cx="624.4" cy="1526.0" r="3.4" fill="#c86a6a" opacity="0.37" filter="url(#eb)"/>
<circle cx="699.5" cy="1506.3" r="2.9" fill="#c86a6a" opacity="0.48" filter="url(#eb)"/>
<circle cx="691.1" cy="1527.0" r="2.5" fill="#c86a6a" opacity="0.44" filter="url(#eb)"/>
<circle cx="716.4" cy="1505.7" r="1.7" fill="#c86a6a" opacity="0.47" filter="url(#eb)"/>
<circle cx="718.6" cy="1527.0" r="2.4" fill="#c86a6a" opacity="0.47" filter="url(#eb)"/>
<circle cx="636.0" cy="1512.5" r="1.9" fill="#c86a6a" opacity="0.43" filter="url(#eb)"/>
<circle cx="650.6" cy="1510.5" r="2.9" fill="#c86a6a" opacity="0.54" filter="url(#eb)"/>
<circle cx="648.4" cy="1537.9" r="2.3" fill="#c86a6a" opacity="0.51" filter="url(#eb)"/>
<circle cx="681.1" cy="1512.5" r="1.9" fill="#c86a6a" opacity="0.26" filter="url(#eb)"/>
<circle cx="669.2" cy="1519.2" r="1.8" fill="#c86a6a" opacity="0.36" filter="url(#eb)"/>
<circle cx="651.4" cy="1541.9" r="1.8" fill="#c86a6a" opacity="0.55" filter="url(#eb)"/>
<circle cx="669.2" cy="1531.7" r="2.4" fill="#c86a6a" opacity="0.50" filter="url(#eb)"/>
<circle cx="707.8" cy="1529.3" r="2.5" fill="#c86a6a" opacity="0.47" filter="url(#eb)"/>
<circle cx="711.8" cy="1520.2" r="3.0" fill="#c86a6a" opacity="0.54" filter="url(#eb)"/>
<circle cx="667.8" cy="1510.3" r="2.0" fill="#c86a6a" opacity="0.47" filter="url(#eb)"/>
<circle cx="691.3" cy="1552.6" r="3.2" fill="#c86a6a" opacity="0.32" filter="url(#eb)"/>
<circle cx="636.4" cy="1512.0" r="1.9" fill="#c86a6a" opacity="0.46" filter="url(#eb)"/>
<circle cx="712.0" cy="1549.2" r="2.0" fill="#c86a6a" opacity="0.51" filter="url(#eb)"/>
<circle cx="650.4" cy="1521.6" r="3.0" fill="#c86a6a" opacity="0.28" filter="url(#eb)"/>
<circle cx="625.5" cy="1545.4" r="2.1" fill="#c86a6a" opacity="0.36" filter="url(#eb)"/>
<circle cx="680.6" cy="1536.2" r="1.5" fill="#c86a6a" opacity="0.35" filter="url(#eb)"/>
<circle cx="664.3" cy="1525.2" r="1.9" fill="#c86a6a" opacity="0.43" filter="url(#eb)"/>
<circle cx="723.0" cy="1519.7" r="2.6" fill="#c86a6a" opacity="0.29" filter="url(#eb)"/>
<circle cx="646.0" cy="1535.6" r="1.7" fill="#c86a6a" opacity="0.52" filter="url(#eb)"/>
<circle cx="717.7" cy="1502.6" r="3.4" fill="#c86a6a" opacity="0.36" filter="url(#eb)"/>
<ellipse cx="535" cy="1612" rx="38" ry="11" transform="rotate(30 535 1612)" fill="#d86a6a" opacity="0.45" filter="url(#cb3)"/>
<path d="M318.0,1512.0 C315.8,1514.2 306.0,1518.7 305.0,1525.0 C304.0,1531.3 307.5,1541.2 312.0,1550.0 C316.5,1558.8 324.3,1568.8 332.0,1578.0 C339.7,1587.2 350.5,1596.3 358.0,1605.0 C365.5,1613.7 369.2,1620.0 377.0,1630.0 C384.8,1640.0 396.0,1653.3 405.0,1665.0 C414.0,1676.7 422.7,1688.3 431.0,1700.0 C439.3,1711.7 447.2,1723.3 455.0,1735.0 C462.8,1746.7 474.2,1764.2 478.0,1770.0" fill="none" stroke="#6e3c3c" stroke-width="35" stroke-linejoin="round" filter="url(#eb)"/>
<path d="M318.0,1512.0 C315.8,1514.2 306.0,1518.7 305.0,1525.0 C304.0,1531.3 307.5,1541.2 312.0,1550.0 C316.5,1558.8 324.3,1568.8 332.0,1578.0 C339.7,1587.2 350.5,1596.3 358.0,1605.0 C365.5,1613.7 369.2,1620.0 377.0,1630.0 C384.8,1640.0 396.0,1653.3 405.0,1665.0 C414.0,1676.7 422.7,1688.3 431.0,1700.0 C439.3,1711.7 447.2,1723.3 455.0,1735.0 C462.8,1746.7 474.2,1764.2 478.0,1770.0" fill="none" stroke="#c8b8b7" stroke-width="32" stroke-linejoin="round"/>
<path d="M318.0,1512.0 C315.8,1514.2 306.0,1518.7 305.0,1525.0 C304.0,1531.3 307.5,1541.2 312.0,1550.0 C316.5,1558.8 324.3,1568.8 332.0,1578.0 C339.7,1587.2 350.5,1596.3 358.0,1605.0 C365.5,1613.7 369.2,1620.0 377.0,1630.0 C384.8,1640.0 396.0,1653.3 405.0,1665.0 C414.0,1676.7 422.7,1688.3 431.0,1700.0 C439.3,1711.7 447.2,1723.3 455.0,1735.0 C462.8,1746.7 474.2,1764.2 478.0,1770.0" fill="none" stroke="#ebe3e2" stroke-width="15" stroke-linejoin="round" filter="url(#eb2)"/>
<path d="M300.0,1574.0 C298.3,1576.7 290.3,1583.7 290.0,1590.0 C289.7,1596.3 294.7,1605.0 298.0,1612.0 C301.3,1619.0 305.5,1625.3 310.0,1632.0 C314.5,1638.7 319.7,1644.3 325.0,1652.0 C330.3,1659.7 336.7,1670.0 342.0,1678.0 C347.3,1686.0 350.7,1691.3 357.0,1700.0 C363.3,1708.7 372.8,1718.3 380.0,1730.0 C387.2,1741.7 396.7,1763.3 400.0,1770.0" fill="none" stroke="#6e3c3c" stroke-width="35" stroke-linejoin="round" filter="url(#eb)"/>
<path d="M300.0,1574.0 C298.3,1576.7 290.3,1583.7 290.0,1590.0 C289.7,1596.3 294.7,1605.0 298.0,1612.0 C301.3,1619.0 305.5,1625.3 310.0,1632.0 C314.5,1638.7 319.7,1644.3 325.0,1652.0 C330.3,1659.7 336.7,1670.0 342.0,1678.0 C347.3,1686.0 350.7,1691.3 357.0,1700.0 C363.3,1708.7 372.8,1718.3 380.0,1730.0 C387.2,1741.7 396.7,1763.3 400.0,1770.0" fill="none" stroke="#c8b8b7" stroke-width="32" stroke-linejoin="round"/>
<path d="M300.0,1574.0 C298.3,1576.7 290.3,1583.7 290.0,1590.0 C289.7,1596.3 294.7,1605.0 298.0,1612.0 C301.3,1619.0 305.5,1625.3 310.0,1632.0 C314.5,1638.7 319.7,1644.3 325.0,1652.0 C330.3,1659.7 336.7,1670.0 342.0,1678.0 C347.3,1686.0 350.7,1691.3 357.0,1700.0 C363.3,1708.7 372.8,1718.3 380.0,1730.0 C387.2,1741.7 396.7,1763.3 400.0,1770.0" fill="none" stroke="#ebe3e2" stroke-width="15" stroke-linejoin="round" filter="url(#eb2)"/>
<path d="M292.0,1646.0 C290.0,1648.3 281.5,1654.3 280.0,1660.0 C278.5,1665.7 281.3,1673.3 283.0,1680.0 C284.7,1686.7 287.2,1693.7 290.0,1700.0 C292.8,1706.3 295.8,1711.3 300.0,1718.0 C304.2,1724.7 309.2,1731.3 315.0,1740.0 C320.8,1748.7 331.7,1765.0 335.0,1770.0" fill="none" stroke="#6e3c3c" stroke-width="35" stroke-linejoin="round" filter="url(#eb)"/>
<path d="M292.0,1646.0 C290.0,1648.3 281.5,1654.3 280.0,1660.0 C278.5,1665.7 281.3,1673.3 283.0,1680.0 C284.7,1686.7 287.2,1693.7 290.0,1700.0 C292.8,1706.3 295.8,1711.3 300.0,1718.0 C304.2,1724.7 309.2,1731.3 315.0,1740.0 C320.8,1748.7 331.7,1765.0 335.0,1770.0" fill="none" stroke="#c8b8b7" stroke-width="32" stroke-linejoin="round"/>
<path d="M292.0,1646.0 C290.0,1648.3 281.5,1654.3 280.0,1660.0 C278.5,1665.7 281.3,1673.3 283.0,1680.0 C284.7,1686.7 287.2,1693.7 290.0,1700.0 C292.8,1706.3 295.8,1711.3 300.0,1718.0 C304.2,1724.7 309.2,1731.3 315.0,1740.0 C320.8,1748.7 331.7,1765.0 335.0,1770.0" fill="none" stroke="#ebe3e2" stroke-width="15" stroke-linejoin="round" filter="url(#eb2)"/>
<path d="M278.0,1724.0 C276.3,1726.7 269.0,1732.3 268.0,1740.0 C267.0,1747.7 271.3,1765.0 272.0,1770.0" fill="none" stroke="#6e3c3c" stroke-width="35" stroke-linejoin="round" filter="url(#eb)"/>
<path d="M278.0,1724.0 C276.3,1726.7 269.0,1732.3 268.0,1740.0 C267.0,1747.7 271.3,1765.0 272.0,1770.0" fill="none" stroke="#c8b8b7" stroke-width="32" stroke-linejoin="round"/>
<path d="M278.0,1724.0 C276.3,1726.7 269.0,1732.3 268.0,1740.0 C267.0,1747.7 271.3,1765.0 272.0,1770.0" fill="none" stroke="#ebe3e2" stroke-width="15" stroke-linejoin="round" filter="url(#eb2)"/>
<path d="M327.0,1488.0 C330.7,1493.3 340.5,1508.0 349.0,1520.0 C357.5,1532.0 367.2,1546.7 378.0,1560.0 C388.8,1573.3 403.0,1588.3 414.0,1600.0 C425.0,1611.7 435.3,1621.3 444.0,1630.0 C452.7,1638.7 455.0,1642.0 466.0,1652.0 C477.0,1662.0 495.0,1677.7 510.0,1690.0 C525.0,1702.3 548.3,1720.0 556.0,1726.0" fill="none" stroke="#6e3c3c" stroke-width="35" stroke-linejoin="round" filter="url(#eb)"/>
<path d="M327.0,1488.0 C330.7,1493.3 340.5,1508.0 349.0,1520.0 C357.5,1532.0 367.2,1546.7 378.0,1560.0 C388.8,1573.3 403.0,1588.3 414.0,1600.0 C425.0,1611.7 435.3,1621.3 444.0,1630.0 C452.7,1638.7 455.0,1642.0 466.0,1652.0 C477.0,1662.0 495.0,1677.7 510.0,1690.0 C525.0,1702.3 548.3,1720.0 556.0,1726.0" fill="none" stroke="#c8b8b7" stroke-width="32" stroke-linejoin="round"/>
<path d="M327.0,1488.0 C330.7,1493.3 340.5,1508.0 349.0,1520.0 C357.5,1532.0 367.2,1546.7 378.0,1560.0 C388.8,1573.3 403.0,1588.3 414.0,1600.0 C425.0,1611.7 435.3,1621.3 444.0,1630.0 C452.7,1638.7 455.0,1642.0 466.0,1652.0 C477.0,1662.0 495.0,1677.7 510.0,1690.0 C525.0,1702.3 548.3,1720.0 556.0,1726.0" fill="none" stroke="#ebe3e2" stroke-width="15" stroke-linejoin="round" filter="url(#eb2)"/>
<ellipse cx="540" cy="1712" rx="20" ry="11" transform="rotate(38 540 1712)" fill="#d86060" opacity="0.55" filter="url(#eb2)"/>
<path d="M872,1490 C885,1540 898,1590 901,1625 C906,1670 912,1715 910,1770" fill="none" stroke="#6e3c3c" stroke-width="23" filter="url(#eb)"/>
<path d="M872,1490 C885,1540 898,1590 901,1625 C906,1670 912,1715 910,1770" fill="none" stroke="#cfc6c6" stroke-width="20"/>
<path d="M872,1490 C885,1540 898,1590 901,1625 C906,1670 912,1715 910,1770" fill="none" stroke="#eee9e9" stroke-width="10" filter="url(#eb2)"/>
<path d="M880,1490 C888,1530 893,1590 888,1640 C882,1670 868,1695 838,1716" fill="none" stroke="#6e3c3c" stroke-width="29" filter="url(#eb)"/>
<path d="M880,1490 C888,1530 893,1590 888,1640 C882,1670 868,1695 838,1716" fill="none" stroke="#d2b4b2" stroke-width="26"/>
<path d="M880,1490 C888,1530 893,1590 888,1640 C882,1670 868,1695 838,1716" fill="none" stroke="#ead6d4" stroke-width="13" filter="url(#eb2)"/>
<path d="M865,1490 C862,1530 845,1580 806,1618" fill="none" stroke="#6e3c3c" stroke-width="30" filter="url(#eb)"/>
<path d="M865,1490 C862,1530 845,1580 806,1618" fill="none" stroke="#d2b4b2" stroke-width="27"/>
<path d="M865,1490 C862,1530 845,1580 806,1618" fill="none" stroke="#ead6d4" stroke-width="14" filter="url(#eb2)"/>
<path d="M812,1490 C800,1510 785,1530 768,1541" fill="none" stroke="#6e3c3c" stroke-width="27" filter="url(#eb)"/>
<path d="M812,1490 C800,1510 785,1530 768,1541" fill="none" stroke="#d2b4b2" stroke-width="24"/>
<path d="M812,1490 C800,1510 785,1530 768,1541" fill="none" stroke="#ead6d4" stroke-width="12" filter="url(#eb2)"/>
<ellipse cx="774" cy="1537" rx="12" ry="8" transform="rotate(35 774 1537)" fill="#d45a5a" opacity="0.55" filter="url(#eb2)"/>
<ellipse cx="812" cy="1612" rx="13" ry="9" transform="rotate(40 812 1612)" fill="#d45a5a" opacity="0.55" filter="url(#eb2)"/>
<ellipse cx="843" cy="1711" rx="13" ry="9" transform="rotate(38 843 1711)" fill="#d45a5a" opacity="0.55" filter="url(#eb2)"/>
<path d="M226,1495 L228,1600 L232,1700" fill="none" stroke="#f6eeee" stroke-width="9" filter="url(#eb2)"/>
<path d="M249,1495 L250,1560 L248,1640" fill="none" stroke="#8a5050" stroke-width="1.5" filter="url(#eb)"/>
<path d="M262,1500 L275,1560 L270,1620" fill="none" stroke="#9a6a6a" stroke-width="1.2" filter="url(#eb)"/>
<polygon points="298.0,1553.0 308.0,1569.0 301.0,1575.0 293.0,1581.0 288.0,1592.0 286.0,1608.0 288.0,1620.0 289.0,1638.0 282.0,1647.0 277.0,1660.0 275.7,1674.4 277.4,1694.7 284.1,1711.7 287.5,1721.8 285.8,1723.5 275.7,1732.0 268.9,1745.5 267.2,1762.0 213.0,1762.0 213.0,1729.0 231.6,1728.6 245.2,1728.6 246.9,1711.7 255.3,1694.7 263.8,1660.9 268.9,1627.0 272.3,1605.2 280.7,1584.8 287.5,1571.3 294.3,1554.4" fill="#000" stroke="#4a1a1a" stroke-width="1.6" stroke-linejoin="round" filter="url(#eb)"/>
<polygon points="213.0,1493.0 215.5,1493.0 215.5,1640.0 218.0,1661.0 223.0,1695.0 228.0,1720.0 213.0,1729.0" fill="#000" stroke="#4a1a1a" stroke-width="1.6" stroke-linejoin="round" filter="url(#eb)"/>
<polygon points="344.4,1493.4 372.2,1493.4 390.8,1510.3 413.0,1524.0 430.0,1533.0 440.0,1543.0 425.0,1541.0 413.0,1535.0 399.3,1530.6 382.3,1523.9 365.4,1513.7" fill="#000" stroke="#4a1a1a" stroke-width="1.6" stroke-linejoin="round" filter="url(#eb)"/>
<polygon points="331.5,1544.2 348.5,1549.3 360.3,1557.7 370.5,1569.6 382.3,1581.4 373.9,1583.1 358.6,1582.3 345.1,1569.6 334.9,1557.7" fill="#000" stroke="#4a1a1a" stroke-width="1.6" stroke-linejoin="round" filter="url(#eb)"/>
<polygon points="413.0,1567.0 422.0,1572.0 430.0,1581.0 450.0,1582.0 468.0,1585.0 472.0,1592.0 466.0,1597.0 449.0,1598.5 436.0,1595.0 425.0,1586.0 413.0,1580.0" fill="#000" stroke="#4a1a1a" stroke-width="1.6" stroke-linejoin="round" filter="url(#eb)"/>
<polygon points="314.6,1606.8 331.5,1608.5 342.7,1609.1 350.3,1615.2 359.2,1627.9 368.1,1641.9 374.5,1654.0 341.4,1650.2 330.0,1638.0 322.0,1622.0" fill="#000" stroke="#4a1a1a" stroke-width="1.6" stroke-linejoin="round" filter="url(#eb)"/>
<polygon points="383.3,1615.2 399.3,1618.7 413.0,1625.5 418.9,1635.6 434.2,1639.4 449.4,1652.1 439.2,1658.4 418.9,1659.7 406.2,1648.3 393.5,1629.2" fill="#000" stroke="#4a1a1a" stroke-width="1.6" stroke-linejoin="round" filter="url(#eb)"/>
<polygon points="304.0,1679.0 321.0,1678.0 330.0,1683.0 340.0,1699.0 349.0,1712.0 355.0,1717.0 327.0,1717.5 318.0,1711.5 310.0,1696.0" fill="#000" stroke="#4a1a1a" stroke-width="1.6" stroke-linejoin="round" filter="url(#eb)"/>
<polygon points="364.3,1683.8 380.8,1686.4 406.2,1690.2 412.6,1699.1 418.9,1704.2 429.1,1714.3 418.9,1716.9 391.0,1718.1 380.8,1704.2 370.6,1691.5" fill="#000" stroke="#4a1a1a" stroke-width="1.6" stroke-linejoin="round" filter="url(#eb)"/>
<polygon points="341.4,1744.8 374.5,1747.3 388.4,1762.0 341.0,1762.0" fill="#000" stroke="#4a1a1a" stroke-width="1.6" stroke-linejoin="round" filter="url(#eb)"/>
<polygon points="289.0,1754.0 310.0,1756.0 312.0,1762.0 289.0,1762.0" fill="#000" stroke="#4a1a1a" stroke-width="1.6" stroke-linejoin="round" filter="url(#eb)"/>
<polygon points="450.3,1493.4 479.0,1493.4 470.0,1498.5 455.0,1498.0" fill="#000" stroke="#4a1a1a" stroke-width="1.6" stroke-linejoin="round" filter="url(#eb)"/>
<polygon points="460.0,1529.0 485.8,1530.6 483.0,1540.8 462.0,1542.6" fill="#000" stroke="#4a1a1a" stroke-width="1.6" stroke-linejoin="round" filter="url(#eb)"/>
<polygon points="588.0,1510.0 608.0,1507.0 618.0,1516.0 617.0,1524.0 606.0,1531.0 586.0,1535.0" fill="#000" stroke="#4a1a1a" stroke-width="1.6" stroke-linejoin="round" filter="url(#eb)"/>
<polygon points="578.9,1547.2 620.0,1544.9 633.8,1547.2 649.8,1558.6 656.6,1574.6 654.3,1581.4 631.5,1586.0 597.2,1590.6 569.7,1595.2 574.0,1570.0" fill="#000" stroke="#4a1a1a" stroke-width="1.6" stroke-linejoin="round" filter="url(#eb)"/>
<polygon points="565.0,1617.5 597.0,1613.5 643.0,1614.6 657.0,1618.0 659.0,1640.0 658.0,1652.0 597.0,1653.5 562.9,1654.6" fill="#000" stroke="#4a1a1a" stroke-width="1.6" stroke-linejoin="round" filter="url(#eb)"/>
<polygon points="562.0,1680.0 600.0,1680.0 640.0,1680.5 661.2,1684.0 663.8,1700.0 661.0,1716.3 600.0,1717.0 560.6,1716.3" fill="#000" stroke="#4a1a1a" stroke-width="1.6" stroke-linejoin="round" filter="url(#eb)"/>
<polygon points="559.0,1744.0 661.2,1749.0 663.8,1762.0 558.0,1762.0" fill="#000" stroke="#4a1a1a" stroke-width="1.6" stroke-linejoin="round" filter="url(#eb)"/>
<polygon points="714.0,1622.0 731.0,1625.0 731.5,1655.0 720.0,1650.0" fill="#000" stroke="#4a1a1a" stroke-width="1.6" stroke-linejoin="round" filter="url(#eb)"/>
<polygon points="726.0,1693.0 748.0,1696.0 774.0,1703.0 791.0,1712.0 803.0,1718.0 813.0,1722.0 823.5,1724.1 839.2,1733.5 851.7,1746.0 862.7,1762.0 790.0,1762.0 795.0,1748.0 791.0,1736.0 765.0,1732.0 748.0,1737.0 731.0,1735.0 725.0,1720.0" fill="#000" stroke="#4a1a1a" stroke-width="1.6" stroke-linejoin="round" filter="url(#eb)"/>
<polygon points="866.0,1684.0 880.0,1688.0 888.0,1700.0 893.0,1720.0 894.0,1746.0 880.0,1740.0 870.0,1725.0 863.0,1705.0" fill="#000" stroke="#4a1a1a" stroke-width="1.6" stroke-linejoin="round" filter="url(#eb)"/>
<polygon points="892.4,1655.2 901.8,1655.2 901.8,1680.3 895.0,1680.0" fill="#000" stroke="#4a1a1a" stroke-width="1.6" stroke-linejoin="round" filter="url(#eb)"/>
<polygon points="862.0,1588.0 872.0,1584.0 878.0,1600.0 879.0,1625.0 874.0,1642.0 860.0,1643.0 855.0,1630.0 855.0,1605.0" fill="#000" stroke="#4a1a1a" stroke-width="1.6" stroke-linejoin="round" filter="url(#eb)"/>
<polygon points="866.0,1548.0 873.0,1546.0 874.5,1572.0 868.0,1573.0" fill="#000" stroke="#4a1a1a" stroke-width="1.6" stroke-linejoin="round" filter="url(#eb)"/>
<path d="M902.0,1556.0 C903.7,1551.5 909.2,1550.2 913.0,1548.0 C916.8,1545.8 920.3,1543.5 925.0,1543.0 C929.7,1542.5 935.7,1545.0 941.0,1545.0 C946.3,1545.0 952.0,1542.2 957.0,1543.0 C962.0,1543.8 968.7,1547.0 971.0,1550.0 C973.3,1553.0 972.0,1556.7 971.0,1561.0 C970.0,1565.3 966.8,1570.3 965.0,1576.0 C963.2,1581.7 960.0,1589.3 960.0,1595.0 C960.0,1600.7 963.5,1604.2 965.0,1610.0 C966.5,1615.8 968.3,1623.8 969.0,1630.0 C969.7,1636.2 970.0,1641.5 969.0,1647.0 C968.0,1652.5 966.2,1657.7 963.0,1663.0 C959.8,1668.3 953.7,1674.3 950.0,1679.0 C946.3,1683.7 943.5,1688.7 941.0,1691.0 C938.5,1693.3 936.7,1694.5 935.0,1693.0 C933.3,1691.5 931.8,1685.7 931.0,1682.0 C930.2,1678.3 929.2,1674.2 930.0,1671.0 C930.8,1667.8 934.3,1666.5 936.0,1663.0 C937.7,1659.5 940.2,1654.7 940.0,1650.0 C939.8,1645.3 938.0,1639.2 935.0,1635.0 C932.0,1630.8 925.8,1629.2 922.0,1625.0 C918.2,1620.8 914.8,1615.8 912.0,1610.0 C909.2,1604.2 906.5,1595.8 905.0,1590.0 C903.5,1584.2 903.5,1580.7 903.0,1575.0 C902.5,1569.3 900.3,1560.5 902.0,1556.0 Z" fill="#d89c98" stroke="#7a2a2a" stroke-width="1.2" filter="url(#eb)"/>
<ellipse cx="945" cy="1600" rx="6" ry="12" fill="#b04848" opacity="0.7" filter="url(#eb2)"/>
<ellipse cx="917.5" cy="1531.5" rx="2.5" ry="2.5" transform="rotate(0 917.5 1531.5)" fill="#d8c8c8"/>
<ellipse cx="947" cy="1532" rx="2.2" ry="6" transform="rotate(-30 947 1532)" fill="#d8c8c8"/>
<ellipse cx="968.4" cy="1544" rx="2.5" ry="2.5" transform="rotate(0 968.4 1544)" fill="#d8c8c8"/>
<ellipse cx="921.4" cy="1544.8" rx="2.5" ry="2.5" transform="rotate(0 921.4 1544.8)" fill="#d8c8c8"/>
<ellipse cx="918.3" cy="1631.7" rx="2.5" ry="1.8" transform="rotate(0 918.3 1631.7)" fill="#d8c8c8"/>
<ellipse cx="939" cy="1587" rx="2" ry="2" transform="rotate(0 939 1587)" fill="#d8c8c8"/>
</g>
<text x="620.5" y="13.8" fill="#fff" font-family="Liberation Sans" font-weight="bold" font-size="17.2" textLength="292" lengthAdjust="spacing">signal intensity to baseline (%)</text>
<text x="609.9" y="43.1" fill="#fff" font-family="Liberation Sans" font-weight="bold" font-size="15.6" text-anchor="end">175</text>
<text x="610.8" y="97.1" fill="#fff" font-family="Liberation Sans" font-weight="bold" font-size="15.6" text-anchor="end">150</text>
<text x="608.5" y="155.4" fill="#fff" font-family="Liberation Sans" font-weight="bold" font-size="15.6" text-anchor="end">125</text>
<text x="607.8" y="217.4" fill="#fff" font-family="Liberation Sans" font-weight="bold" font-size="15.6" text-anchor="end">100</text>
<text x="608.5" y="276.1" fill="#fff" font-family="Liberation Sans" font-weight="bold" font-size="15.6" text-anchor="end">75</text>
<text x="609.3" y="335.8" fill="#fff" font-family="Liberation Sans" font-weight="bold" font-size="15.6" text-anchor="end">50</text>
<text x="609.3" y="395.6" fill="#fff" font-family="Liberation Sans" font-weight="bold" font-size="15.6" text-anchor="end">25</text>
<text x="609.3" y="455.8" fill="#fff" font-family="Liberation Sans" font-weight="bold" font-size="15.6" text-anchor="end">0</text>
<text x="617.5" y="516.2" fill="#fff" font-family="Liberation Sans" font-weight="bold" font-size="15.6">0</text>
<text x="758.5" y="516.4" fill="#fff" font-family="Liberation Sans" font-weight="bold" font-size="15.6">150</text>
<text x="913.7" y="516.4" fill="#fff" font-family="Liberation Sans" font-weight="bold" font-size="15.6">300</text>
<text x="825" y="546" fill="#fff" font-family="Liberation Sans" font-weight="bold" font-size="17.2" textLength="139" lengthAdjust="spacing">time (seconds)</text>
<text x="976" y="116.2" fill="#fff000" font-family="Liberation Sans" font-weight="bold" font-size="17.2" textLength="95.5" lengthAdjust="spacing">AV bundle</text>
<text x="974.8" y="294.9" fill="#4cb0f4" font-family="Liberation Sans" font-weight="bold" font-size="17.2" textLength="143.5" lengthAdjust="spacing">Subscap musc.</text>
<text x="974.8" y="329.5" fill="#f7aa1f" font-family="Liberation Sans" font-weight="bold" font-size="17.2" textLength="107.5" lengthAdjust="spacing">Muscle flap</text>
<text x="976.3" y="470.3" fill="#f2309a" font-family="Liberation Sans" font-weight="bold" font-size="17.2" textLength="201.5" lengthAdjust="spacing">engineered construct</text>
<text x="620.8" y="604.4" fill="#fff" font-family="Liberation Sans" font-weight="bold" font-size="17.2" textLength="292.5" lengthAdjust="spacing">signal intensity to baseline (%)</text>
<text x="610.8" y="634.8" fill="#fff" font-family="Liberation Sans" font-weight="bold" font-size="15.6" text-anchor="end">150</text>
<text x="608.5" y="697.2" fill="#fff" font-family="Liberation Sans" font-weight="bold" font-size="15.6" text-anchor="end">125</text>
<text x="607.8" y="763.7" fill="#fff" font-family="Liberation Sans" font-weight="bold" font-size="15.6" text-anchor="end">100</text>
<text x="608.6" y="832.7" fill="#fff" font-family="Liberation Sans" font-weight="bold" font-size="15.6" text-anchor="end">75</text>
<text x="609.5" y="901.3" fill="#fff" font-family="Liberation Sans" font-weight="bold" font-size="15.6" text-anchor="end">50</text>
<text x="609.5" y="968.1" fill="#fff" font-family="Liberation Sans" font-weight="bold" font-size="15.6" text-anchor="end">25</text>
<text x="609.5" y="1035.4" fill="#fff" font-family="Liberation Sans" font-weight="bold" font-size="15.6" text-anchor="end">0</text>
<text x="620.8" y="1111" fill="#fff" font-family="Liberation Sans" font-weight="bold" font-size="15.6">0</text>
<text x="786.7" y="1111.3" fill="#fff" font-family="Liberation Sans" font-weight="bold" font-size="15.6">150</text>
<text x="935.6" y="1111.3" fill="#fff" font-family="Liberation Sans" font-weight="bold" font-size="15.6">300</text>
<text x="824.6" y="1139.9" fill="#fff" font-family="Liberation Sans" font-weight="bold" font-size="17.2" textLength="139" lengthAdjust="spacing">time (seconds)</text>
<text x="974.1" y="721.5" fill="#fff000" font-family="Liberation Sans" font-weight="bold" font-size="17.2" textLength="95" lengthAdjust="spacing">AV bundle</text>
<text x="975.4" y="749.6" fill="#f2309a" font-family="Liberation Sans" font-weight="bold" font-size="17.2" textLength="201.5" lengthAdjust="spacing">engineered construct</text>
<text x="974.8" y="828.2" fill="#f7aa1f" font-family="Liberation Sans" font-weight="bold" font-size="17.2" textLength="107.5" lengthAdjust="spacing">Muscle flap</text>
<text x="976" y="920.8" fill="#4cb0f4" font-family="Liberation Sans" font-weight="bold" font-size="17.2" textLength="143" lengthAdjust="spacing">Subscap musc.</text>
<text x="127.5" y="64" fill="#fff" font-family="Liberation Sans" font-weight="bold" font-size="46">A</text>
<text x="126.8" y="655.6" fill="#fff" font-family="Liberation Sans" font-weight="bold" font-size="46">B</text>
<text x="227" y="17.8" fill="#fff000" font-family="Liberation Sans" font-weight="bold" font-size="17.2" textLength="95.5" lengthAdjust="spacing">AV bundle</text>
<text x="5.8" y="146.5" fill="#f2309a" font-family="Liberation Sans" font-weight="bold" font-size="17.2" textLength="201.5" lengthAdjust="spacing">engineered construct</text>
<text x="62.5" y="427.6" fill="#4cb0f4" font-family="Liberation Sans" font-weight="bold" font-size="17.2" textLength="143.5" lengthAdjust="spacing">Subscap musc.</text>
<text x="424.2" y="516.2" fill="#f7aa1f" font-family="Liberation Sans" font-weight="bold" font-size="17.2" textLength="107.5" lengthAdjust="spacing">Muscle flap</text>
<text x="298" y="610.9" fill="#fff000" font-family="Liberation Sans" font-weight="bold" font-size="17.2" textLength="95" lengthAdjust="spacing">AV bundle</text>
<text x="2.5" y="717.3" fill="#f2309a" font-family="Liberation Sans" font-weight="bold" font-size="17.2" textLength="201.5" lengthAdjust="spacing">engineered construct</text>
<text x="58" y="1073.6" fill="#4cb0f4" font-family="Liberation Sans" font-weight="bold" font-size="17.2" textLength="143" lengthAdjust="spacing">Subscap musc.</text>
<text x="393.7" y="1115.4" fill="#f7aa1f" font-family="Liberation Sans" font-weight="bold" font-size="17.2" textLength="107.5" lengthAdjust="spacing">Muscle flap</text>
<text x="397.5" y="1254.4" fill="#111" font-family="Liberation Sans" font-weight="normal" font-size="20" textLength="75.5" lengthAdjust="spacing">Sternum</text>
<text x="475.5" y="1392.5" fill="#111" font-family="Liberation Sans" font-weight="normal" font-size="20" textLength="85" lengthAdjust="spacing">Construct</text>
<text x="339" y="1460" fill="#111" font-family="Liberation Sans" font-weight="normal" font-size="20" textLength="132" lengthAdjust="spacing">Vertebral body</text>
<text x="228.5" y="1482" fill="#000" font-family="Liberation Sans" font-weight="bold" font-size="46">C</text>
<text x="745.5" y="1241.8" fill="#fff" font-family="Liberation Sans" font-weight="normal" font-size="22" textLength="82" lengthAdjust="spacing">Sternum</text>
<text x="868.3" y="1288.9" fill="#fff" font-family="Liberation Sans" font-weight="normal" font-size="22" textLength="92" lengthAdjust="spacing">Construct</text>
<text x="669.3" y="1479.6" fill="#fff" font-family="Liberation Sans" font-weight="normal" font-size="22" textLength="143" lengthAdjust="spacing">Vertebral body</text>
<text x="605.5" y="1482" fill="#fff" font-family="Liberation Sans" font-weight="bold" font-size="46">D</text>
<text x="220" y="1753" fill="#fff" font-family="Liberation Sans" font-weight="bold" font-size="46">E</text>
</svg>
</body></html>
